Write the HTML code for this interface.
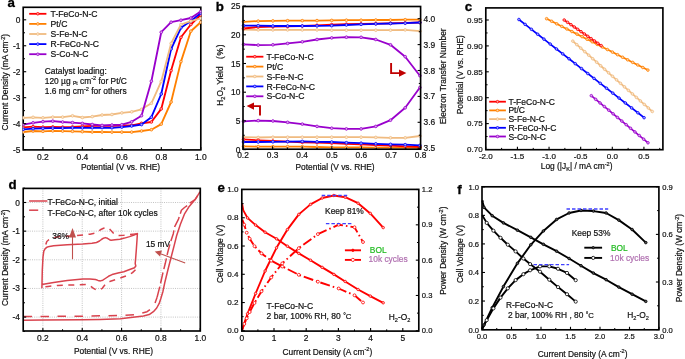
<!DOCTYPE html>
<html><head><meta charset="utf-8"><style>
html,body{margin:0;padding:0;background:#fff;}
svg{display:block;will-change:transform;}
text{font-family:"Liberation Sans", sans-serif;font-variant-ligatures:none;}
</style></head><body>
<svg width="685" height="359" viewBox="0 0 685 359">
<defs><clipPath id="ca"><rect x="22.6" y="6.7" width="178.8" height="143.8"/></clipPath></defs>
<rect width="685" height="359" fill="#fff"/>
<rect x="23.2" y="7.3" width="177.6" height="142.6" fill="none" stroke="#000" stroke-width="1.65"/>
<g clip-path="url(#ca)">
<polyline points="23.2,127.3 33.06,126.7 42.92,127.1 52.78,126.9 62.64,127.1 72.5,126.9 82.36,126.3 92.22,125.9 102.08,125.9 111.94,125.8 121.8,125.5 131.66,125.3 141.52,123.3 151.38,122 161.24,108.9 171.1,70.6 180.96,37.3 190.82,24.5 200.68,15" fill="none" stroke="#ff0000" stroke-width="1.85" stroke-linejoin="round" />
<circle cx="23.2" cy="127.3" r="1.35" fill="#ffa5a5" stroke="#ff0000" stroke-width="0.8"/>
<circle cx="33.06" cy="126.7" r="1.35" fill="#ffa5a5" stroke="#ff0000" stroke-width="0.8"/>
<circle cx="42.92" cy="127.1" r="1.35" fill="#ffa5a5" stroke="#ff0000" stroke-width="0.8"/>
<circle cx="52.78" cy="126.9" r="1.35" fill="#ffa5a5" stroke="#ff0000" stroke-width="0.8"/>
<circle cx="62.64" cy="127.1" r="1.35" fill="#ffa5a5" stroke="#ff0000" stroke-width="0.8"/>
<circle cx="72.5" cy="126.9" r="1.35" fill="#ffa5a5" stroke="#ff0000" stroke-width="0.8"/>
<circle cx="82.36" cy="126.3" r="1.35" fill="#ffa5a5" stroke="#ff0000" stroke-width="0.8"/>
<circle cx="92.22" cy="125.9" r="1.35" fill="#ffa5a5" stroke="#ff0000" stroke-width="0.8"/>
<circle cx="102.08" cy="125.9" r="1.35" fill="#ffa5a5" stroke="#ff0000" stroke-width="0.8"/>
<circle cx="111.94" cy="125.8" r="1.35" fill="#ffa5a5" stroke="#ff0000" stroke-width="0.8"/>
<circle cx="121.8" cy="125.5" r="1.35" fill="#ffa5a5" stroke="#ff0000" stroke-width="0.8"/>
<circle cx="131.66" cy="125.3" r="1.35" fill="#ffa5a5" stroke="#ff0000" stroke-width="0.8"/>
<circle cx="141.52" cy="123.3" r="1.35" fill="#ffa5a5" stroke="#ff0000" stroke-width="0.8"/>
<circle cx="151.38" cy="122" r="1.35" fill="#ffa5a5" stroke="#ff0000" stroke-width="0.8"/>
<circle cx="161.24" cy="108.9" r="1.35" fill="#ffa5a5" stroke="#ff0000" stroke-width="0.8"/>
<circle cx="171.1" cy="70.6" r="1.35" fill="#ffa5a5" stroke="#ff0000" stroke-width="0.8"/>
<circle cx="180.96" cy="37.3" r="1.35" fill="#ffa5a5" stroke="#ff0000" stroke-width="0.8"/>
<circle cx="190.82" cy="24.5" r="1.35" fill="#ffa5a5" stroke="#ff0000" stroke-width="0.8"/>
<circle cx="200.68" cy="15" r="1.35" fill="#ffa5a5" stroke="#ff0000" stroke-width="0.8"/>
<polyline points="23.2,132 33.06,131 42.92,131.3 52.78,130.9 62.64,131.1 72.5,131.3 82.36,131.7 92.22,132 102.08,132 111.94,132.1 121.8,132.1 131.66,132.1 141.52,131 151.38,129.7 161.24,124.1 171.1,102 180.96,61.6 190.82,31.2 200.68,22.2" fill="none" stroke="#ff8000" stroke-width="1.85" stroke-linejoin="round" />
<circle cx="23.2" cy="132" r="1.35" fill="#ffd2a5" stroke="#ff8000" stroke-width="0.8"/>
<circle cx="33.06" cy="131" r="1.35" fill="#ffd2a5" stroke="#ff8000" stroke-width="0.8"/>
<circle cx="42.92" cy="131.3" r="1.35" fill="#ffd2a5" stroke="#ff8000" stroke-width="0.8"/>
<circle cx="52.78" cy="130.9" r="1.35" fill="#ffd2a5" stroke="#ff8000" stroke-width="0.8"/>
<circle cx="62.64" cy="131.1" r="1.35" fill="#ffd2a5" stroke="#ff8000" stroke-width="0.8"/>
<circle cx="72.5" cy="131.3" r="1.35" fill="#ffd2a5" stroke="#ff8000" stroke-width="0.8"/>
<circle cx="82.36" cy="131.7" r="1.35" fill="#ffd2a5" stroke="#ff8000" stroke-width="0.8"/>
<circle cx="92.22" cy="132" r="1.35" fill="#ffd2a5" stroke="#ff8000" stroke-width="0.8"/>
<circle cx="102.08" cy="132" r="1.35" fill="#ffd2a5" stroke="#ff8000" stroke-width="0.8"/>
<circle cx="111.94" cy="132.1" r="1.35" fill="#ffd2a5" stroke="#ff8000" stroke-width="0.8"/>
<circle cx="121.8" cy="132.1" r="1.35" fill="#ffd2a5" stroke="#ff8000" stroke-width="0.8"/>
<circle cx="131.66" cy="132.1" r="1.35" fill="#ffd2a5" stroke="#ff8000" stroke-width="0.8"/>
<circle cx="141.52" cy="131" r="1.35" fill="#ffd2a5" stroke="#ff8000" stroke-width="0.8"/>
<circle cx="151.38" cy="129.7" r="1.35" fill="#ffd2a5" stroke="#ff8000" stroke-width="0.8"/>
<circle cx="161.24" cy="124.1" r="1.35" fill="#ffd2a5" stroke="#ff8000" stroke-width="0.8"/>
<circle cx="171.1" cy="102" r="1.35" fill="#ffd2a5" stroke="#ff8000" stroke-width="0.8"/>
<circle cx="180.96" cy="61.6" r="1.35" fill="#ffd2a5" stroke="#ff8000" stroke-width="0.8"/>
<circle cx="190.82" cy="31.2" r="1.35" fill="#ffd2a5" stroke="#ff8000" stroke-width="0.8"/>
<circle cx="200.68" cy="22.2" r="1.35" fill="#ffd2a5" stroke="#ff8000" stroke-width="0.8"/>
<polyline points="23.2,129.3 33.06,128.7 42.92,128.4 52.78,128.1 62.64,128.1 72.5,127.9 82.36,127.9 92.22,127.8 102.08,127.6 111.94,127.8 121.8,127.1 131.66,126 141.52,124.6 151.38,117.2 161.24,94 171.1,49 180.96,27.8 190.82,21.1 200.68,13.3" fill="none" stroke="#0000ff" stroke-width="1.85" stroke-linejoin="round" />
<circle cx="23.2" cy="129.3" r="1.35" fill="#a5a5ff" stroke="#0000ff" stroke-width="0.8"/>
<circle cx="33.06" cy="128.7" r="1.35" fill="#a5a5ff" stroke="#0000ff" stroke-width="0.8"/>
<circle cx="42.92" cy="128.4" r="1.35" fill="#a5a5ff" stroke="#0000ff" stroke-width="0.8"/>
<circle cx="52.78" cy="128.1" r="1.35" fill="#a5a5ff" stroke="#0000ff" stroke-width="0.8"/>
<circle cx="62.64" cy="128.1" r="1.35" fill="#a5a5ff" stroke="#0000ff" stroke-width="0.8"/>
<circle cx="72.5" cy="127.9" r="1.35" fill="#a5a5ff" stroke="#0000ff" stroke-width="0.8"/>
<circle cx="82.36" cy="127.9" r="1.35" fill="#a5a5ff" stroke="#0000ff" stroke-width="0.8"/>
<circle cx="92.22" cy="127.8" r="1.35" fill="#a5a5ff" stroke="#0000ff" stroke-width="0.8"/>
<circle cx="102.08" cy="127.6" r="1.35" fill="#a5a5ff" stroke="#0000ff" stroke-width="0.8"/>
<circle cx="111.94" cy="127.8" r="1.35" fill="#a5a5ff" stroke="#0000ff" stroke-width="0.8"/>
<circle cx="121.8" cy="127.1" r="1.35" fill="#a5a5ff" stroke="#0000ff" stroke-width="0.8"/>
<circle cx="131.66" cy="126" r="1.35" fill="#a5a5ff" stroke="#0000ff" stroke-width="0.8"/>
<circle cx="141.52" cy="124.6" r="1.35" fill="#a5a5ff" stroke="#0000ff" stroke-width="0.8"/>
<circle cx="151.38" cy="117.2" r="1.35" fill="#a5a5ff" stroke="#0000ff" stroke-width="0.8"/>
<circle cx="161.24" cy="94" r="1.35" fill="#a5a5ff" stroke="#0000ff" stroke-width="0.8"/>
<circle cx="171.1" cy="49" r="1.35" fill="#a5a5ff" stroke="#0000ff" stroke-width="0.8"/>
<circle cx="180.96" cy="27.8" r="1.35" fill="#a5a5ff" stroke="#0000ff" stroke-width="0.8"/>
<circle cx="190.82" cy="21.1" r="1.35" fill="#a5a5ff" stroke="#0000ff" stroke-width="0.8"/>
<circle cx="200.68" cy="13.3" r="1.35" fill="#a5a5ff" stroke="#0000ff" stroke-width="0.8"/>
<polyline points="23.2,117.8 33.06,117.3 42.92,117.8 52.78,117.1 62.64,117.1 72.5,115.8 82.36,117.5 92.22,116.6 102.08,115 111.94,114.5 121.8,112.9 131.66,111.8 141.52,109.3 151.38,103.3 161.24,81.4 171.1,43.4 180.96,24.5 190.82,21.1 200.68,18.4" fill="none" stroke="#f0bb80" stroke-width="1.85" stroke-linejoin="round" />
<circle cx="23.2" cy="117.8" r="1.35" fill="#f9e7d2" stroke="#f0bb80" stroke-width="0.8"/>
<circle cx="33.06" cy="117.3" r="1.35" fill="#f9e7d2" stroke="#f0bb80" stroke-width="0.8"/>
<circle cx="42.92" cy="117.8" r="1.35" fill="#f9e7d2" stroke="#f0bb80" stroke-width="0.8"/>
<circle cx="52.78" cy="117.1" r="1.35" fill="#f9e7d2" stroke="#f0bb80" stroke-width="0.8"/>
<circle cx="62.64" cy="117.1" r="1.35" fill="#f9e7d2" stroke="#f0bb80" stroke-width="0.8"/>
<circle cx="72.5" cy="115.8" r="1.35" fill="#f9e7d2" stroke="#f0bb80" stroke-width="0.8"/>
<circle cx="82.36" cy="117.5" r="1.35" fill="#f9e7d2" stroke="#f0bb80" stroke-width="0.8"/>
<circle cx="92.22" cy="116.6" r="1.35" fill="#f9e7d2" stroke="#f0bb80" stroke-width="0.8"/>
<circle cx="102.08" cy="115" r="1.35" fill="#f9e7d2" stroke="#f0bb80" stroke-width="0.8"/>
<circle cx="111.94" cy="114.5" r="1.35" fill="#f9e7d2" stroke="#f0bb80" stroke-width="0.8"/>
<circle cx="121.8" cy="112.9" r="1.35" fill="#f9e7d2" stroke="#f0bb80" stroke-width="0.8"/>
<circle cx="131.66" cy="111.8" r="1.35" fill="#f9e7d2" stroke="#f0bb80" stroke-width="0.8"/>
<circle cx="141.52" cy="109.3" r="1.35" fill="#f9e7d2" stroke="#f0bb80" stroke-width="0.8"/>
<circle cx="151.38" cy="103.3" r="1.35" fill="#f9e7d2" stroke="#f0bb80" stroke-width="0.8"/>
<circle cx="161.24" cy="81.4" r="1.35" fill="#f9e7d2" stroke="#f0bb80" stroke-width="0.8"/>
<circle cx="171.1" cy="43.4" r="1.35" fill="#f9e7d2" stroke="#f0bb80" stroke-width="0.8"/>
<circle cx="180.96" cy="24.5" r="1.35" fill="#f9e7d2" stroke="#f0bb80" stroke-width="0.8"/>
<circle cx="190.82" cy="21.1" r="1.35" fill="#f9e7d2" stroke="#f0bb80" stroke-width="0.8"/>
<circle cx="200.68" cy="18.4" r="1.35" fill="#f9e7d2" stroke="#f0bb80" stroke-width="0.8"/>
<polyline points="23.2,124.6 33.06,122.8 42.92,121.7 52.78,121.1 62.64,122 72.5,122.6 82.36,123.4 92.22,124.5 102.08,125.4 111.94,125 121.8,124.7 131.66,121.8 141.52,115.7 151.38,81.2 161.24,32.2 171.1,22.2 180.96,20.2 190.82,18 200.68,11.5" fill="none" stroke="#9900cc" stroke-width="1.85" stroke-linejoin="round" />
<circle cx="23.2" cy="124.6" r="1.35" fill="#dba5ed" stroke="#9900cc" stroke-width="0.8"/>
<circle cx="33.06" cy="122.8" r="1.35" fill="#dba5ed" stroke="#9900cc" stroke-width="0.8"/>
<circle cx="42.92" cy="121.7" r="1.35" fill="#dba5ed" stroke="#9900cc" stroke-width="0.8"/>
<circle cx="52.78" cy="121.1" r="1.35" fill="#dba5ed" stroke="#9900cc" stroke-width="0.8"/>
<circle cx="62.64" cy="122" r="1.35" fill="#dba5ed" stroke="#9900cc" stroke-width="0.8"/>
<circle cx="72.5" cy="122.6" r="1.35" fill="#dba5ed" stroke="#9900cc" stroke-width="0.8"/>
<circle cx="82.36" cy="123.4" r="1.35" fill="#dba5ed" stroke="#9900cc" stroke-width="0.8"/>
<circle cx="92.22" cy="124.5" r="1.35" fill="#dba5ed" stroke="#9900cc" stroke-width="0.8"/>
<circle cx="102.08" cy="125.4" r="1.35" fill="#dba5ed" stroke="#9900cc" stroke-width="0.8"/>
<circle cx="111.94" cy="125" r="1.35" fill="#dba5ed" stroke="#9900cc" stroke-width="0.8"/>
<circle cx="121.8" cy="124.7" r="1.35" fill="#dba5ed" stroke="#9900cc" stroke-width="0.8"/>
<circle cx="131.66" cy="121.8" r="1.35" fill="#dba5ed" stroke="#9900cc" stroke-width="0.8"/>
<circle cx="141.52" cy="115.7" r="1.35" fill="#dba5ed" stroke="#9900cc" stroke-width="0.8"/>
<circle cx="151.38" cy="81.2" r="1.35" fill="#dba5ed" stroke="#9900cc" stroke-width="0.8"/>
<circle cx="161.24" cy="32.2" r="1.35" fill="#dba5ed" stroke="#9900cc" stroke-width="0.8"/>
<circle cx="171.1" cy="22.2" r="1.35" fill="#dba5ed" stroke="#9900cc" stroke-width="0.8"/>
<circle cx="180.96" cy="20.2" r="1.35" fill="#dba5ed" stroke="#9900cc" stroke-width="0.8"/>
<circle cx="190.82" cy="18" r="1.35" fill="#dba5ed" stroke="#9900cc" stroke-width="0.8"/>
<circle cx="200.68" cy="11.5" r="1.35" fill="#dba5ed" stroke="#9900cc" stroke-width="0.8"/>
</g>
<line x1="42.93" y1="149.9" x2="42.93" y2="146.9" stroke="#000" stroke-width="1.1" />
<line x1="82.4" y1="149.9" x2="82.4" y2="146.9" stroke="#000" stroke-width="1.1" />
<line x1="121.87" y1="149.9" x2="121.87" y2="146.9" stroke="#000" stroke-width="1.1" />
<line x1="161.33" y1="149.9" x2="161.33" y2="146.9" stroke="#000" stroke-width="1.1" />
<line x1="200.8" y1="149.9" x2="200.8" y2="146.9" stroke="#000" stroke-width="1.1" />
<line x1="62.67" y1="149.9" x2="62.67" y2="148.1" stroke="#000" stroke-width="1.0" />
<line x1="102.13" y1="149.9" x2="102.13" y2="148.1" stroke="#000" stroke-width="1.0" />
<line x1="141.6" y1="149.9" x2="141.6" y2="148.1" stroke="#000" stroke-width="1.0" />
<line x1="181.07" y1="149.9" x2="181.07" y2="148.1" stroke="#000" stroke-width="1.0" />
<text x="42.93" y="159.8" font-size="8.5" text-anchor="middle" fill="#111" font-weight="normal" stroke="#111" stroke-width="0.2" >0.2</text>
<text x="82.4" y="159.8" font-size="8.5" text-anchor="middle" fill="#111" font-weight="normal" stroke="#111" stroke-width="0.2" >0.4</text>
<text x="121.87" y="159.8" font-size="8.5" text-anchor="middle" fill="#111" font-weight="normal" stroke="#111" stroke-width="0.2" >0.6</text>
<text x="161.33" y="159.8" font-size="8.5" text-anchor="middle" fill="#111" font-weight="normal" stroke="#111" stroke-width="0.2" >0.8</text>
<text x="200.8" y="159.8" font-size="8.5" text-anchor="middle" fill="#111" font-weight="normal" stroke="#111" stroke-width="0.2" >1.0</text>
<line x1="23.2" y1="19.8" x2="26.2" y2="19.8" stroke="#000" stroke-width="1.1" />
<line x1="23.2" y1="45.76" x2="26.2" y2="45.76" stroke="#000" stroke-width="1.1" />
<line x1="23.2" y1="71.72" x2="26.2" y2="71.72" stroke="#000" stroke-width="1.1" />
<line x1="23.2" y1="97.68" x2="26.2" y2="97.68" stroke="#000" stroke-width="1.1" />
<line x1="23.2" y1="123.64" x2="26.2" y2="123.64" stroke="#000" stroke-width="1.1" />
<line x1="23.2" y1="149.6" x2="26.2" y2="149.6" stroke="#000" stroke-width="1.1" />
<line x1="23.2" y1="32.78" x2="25" y2="32.78" stroke="#000" stroke-width="1.0" />
<line x1="23.2" y1="58.74" x2="25" y2="58.74" stroke="#000" stroke-width="1.0" />
<line x1="23.2" y1="84.7" x2="25" y2="84.7" stroke="#000" stroke-width="1.0" />
<line x1="23.2" y1="110.66" x2="25" y2="110.66" stroke="#000" stroke-width="1.0" />
<line x1="23.2" y1="136.62" x2="25" y2="136.62" stroke="#000" stroke-width="1.0" />
<text x="20.5" y="22.8" font-size="8.4" text-anchor="end" fill="#111" font-weight="normal" stroke="#111" stroke-width="0.2" >0</text>
<text x="20.5" y="48.76" font-size="8.4" text-anchor="end" fill="#111" font-weight="normal" stroke="#111" stroke-width="0.2" >-1</text>
<text x="20.5" y="74.72" font-size="8.4" text-anchor="end" fill="#111" font-weight="normal" stroke="#111" stroke-width="0.2" >-2</text>
<text x="20.5" y="100.68" font-size="8.4" text-anchor="end" fill="#111" font-weight="normal" stroke="#111" stroke-width="0.2" >-3</text>
<text x="20.5" y="126.64" font-size="8.4" text-anchor="end" fill="#111" font-weight="normal" stroke="#111" stroke-width="0.2" >-4</text>
<text x="20.5" y="152.6" font-size="8.4" text-anchor="end" fill="#111" font-weight="normal" stroke="#111" stroke-width="0.2" >-5</text>
<text x="120.6" y="169.6" font-size="8.4" text-anchor="middle" fill="#111" font-weight="normal" stroke="#111" stroke-width="0.2" >Potential (V vs. RHE)</text>
<text x="8.2" y="82.2" font-size="8.4" text-anchor="middle" fill="#111" font-weight="normal" stroke="#111" stroke-width="0.2" transform="rotate(-90 8.2 82.2)" >Current Density (mA cm<tspan font-size="5.6" dy="-3.2">-2</tspan><tspan dy="3.2">)</tspan></text>
<line x1="29.2" y1="13.8" x2="46.4" y2="13.8" stroke="#ff0000" stroke-width="1.8" />
<circle cx="37.8" cy="13.8" r="1.3" fill="#ffa5a5" stroke="#ff0000" stroke-width="0.8"/>
<text x="50.6" y="16.9" font-size="8.65" text-anchor="start" fill="#111" font-weight="normal" stroke="#111" stroke-width="0.2" >T-FeCo-N-C</text>
<line x1="29.2" y1="23.9" x2="46.4" y2="23.9" stroke="#ff8000" stroke-width="1.8" />
<circle cx="37.8" cy="23.9" r="1.3" fill="#ffd2a5" stroke="#ff8000" stroke-width="0.8"/>
<text x="50.6" y="27" font-size="8.65" text-anchor="start" fill="#111" font-weight="normal" stroke="#111" stroke-width="0.2" >Pt/C</text>
<line x1="29.2" y1="34" x2="46.4" y2="34" stroke="#f0bb80" stroke-width="1.8" />
<circle cx="37.8" cy="34" r="1.3" fill="#f9e7d2" stroke="#f0bb80" stroke-width="0.8"/>
<text x="50.6" y="37.1" font-size="8.65" text-anchor="start" fill="#111" font-weight="normal" stroke="#111" stroke-width="0.2" >S-Fe-N-C</text>
<line x1="29.2" y1="44.1" x2="46.4" y2="44.1" stroke="#0000ff" stroke-width="1.8" />
<circle cx="37.8" cy="44.1" r="1.3" fill="#a5a5ff" stroke="#0000ff" stroke-width="0.8"/>
<text x="50.6" y="47.2" font-size="8.65" text-anchor="start" fill="#111" font-weight="normal" stroke="#111" stroke-width="0.2" >R-FeCo-N-C</text>
<line x1="29.2" y1="54.2" x2="46.4" y2="54.2" stroke="#9900cc" stroke-width="1.8" />
<circle cx="37.8" cy="54.2" r="1.3" fill="#dba5ed" stroke="#9900cc" stroke-width="0.8"/>
<text x="50.6" y="57.3" font-size="8.65" text-anchor="start" fill="#111" font-weight="normal" stroke="#111" stroke-width="0.2" >S-Co-N-C</text>
<text x="44.8" y="73.7" font-size="8.4" text-anchor="start" fill="#111" font-weight="normal" stroke="#111" stroke-width="0.2" >Catalyst loading:</text>
<text x="44.8" y="83.5" font-size="8.4" text-anchor="start" fill="#111" font-weight="normal" stroke="#111" stroke-width="0.2" >120 µg <tspan font-size="5.0" dy="1.8">Pt</tspan><tspan dy="-1.8"> cm<tspan font-size="5.6" dy="-3.2">-2</tspan><tspan dy="3.2"> for Pt/C</tspan></tspan></text>
<text x="44.8" y="93.7" font-size="8.4" text-anchor="start" fill="#111" font-weight="normal" stroke="#111" stroke-width="0.2" >1.6 mg cm<tspan font-size="5.6" dy="-3.2">-2</tspan><tspan dy="3.2"> for others</tspan></text>
<text x="7.6" y="7" font-size="13.3" text-anchor="start" fill="#000" font-weight="bold" stroke="#000" stroke-width="0.3">a</text>
<polyline points="243.5,29.5 258.2,29.9 272.9,29.9 287.6,29.9 302.3,29.9 317,29.9 331.7,30.2 346.4,30.2 361.1,30.2 375.8,30.2 390.5,30.2 405.2,29.9 419.9,31.2" fill="none" stroke="#f0bb80" stroke-width="1.8" stroke-linejoin="round" />
<circle cx="243.5" cy="29.5" r="1.35" fill="#f9e7d2" stroke="#f0bb80" stroke-width="0.8"/>
<circle cx="258.2" cy="29.9" r="1.35" fill="#f9e7d2" stroke="#f0bb80" stroke-width="0.8"/>
<circle cx="272.9" cy="29.9" r="1.35" fill="#f9e7d2" stroke="#f0bb80" stroke-width="0.8"/>
<circle cx="287.6" cy="29.9" r="1.35" fill="#f9e7d2" stroke="#f0bb80" stroke-width="0.8"/>
<circle cx="302.3" cy="29.9" r="1.35" fill="#f9e7d2" stroke="#f0bb80" stroke-width="0.8"/>
<circle cx="317" cy="29.9" r="1.35" fill="#f9e7d2" stroke="#f0bb80" stroke-width="0.8"/>
<circle cx="331.7" cy="30.2" r="1.35" fill="#f9e7d2" stroke="#f0bb80" stroke-width="0.8"/>
<circle cx="346.4" cy="30.2" r="1.35" fill="#f9e7d2" stroke="#f0bb80" stroke-width="0.8"/>
<circle cx="361.1" cy="30.2" r="1.35" fill="#f9e7d2" stroke="#f0bb80" stroke-width="0.8"/>
<circle cx="375.8" cy="30.2" r="1.35" fill="#f9e7d2" stroke="#f0bb80" stroke-width="0.8"/>
<circle cx="390.5" cy="30.2" r="1.35" fill="#f9e7d2" stroke="#f0bb80" stroke-width="0.8"/>
<circle cx="405.2" cy="29.9" r="1.35" fill="#f9e7d2" stroke="#f0bb80" stroke-width="0.8"/>
<circle cx="419.9" cy="31.2" r="1.35" fill="#f9e7d2" stroke="#f0bb80" stroke-width="0.8"/>
<polyline points="243.5,44.4 258.2,45.1 272.9,44.8 287.6,43.4 302.3,41.8 317,39.5 331.7,37.9 346.4,37.2 361.1,37.3 375.8,39.5 390.5,44.8 405.2,56.7 419.9,75.7" fill="none" stroke="#9900cc" stroke-width="1.8" stroke-linejoin="round" />
<circle cx="243.5" cy="44.4" r="1.35" fill="#dba5ed" stroke="#9900cc" stroke-width="0.8"/>
<circle cx="258.2" cy="45.1" r="1.35" fill="#dba5ed" stroke="#9900cc" stroke-width="0.8"/>
<circle cx="272.9" cy="44.8" r="1.35" fill="#dba5ed" stroke="#9900cc" stroke-width="0.8"/>
<circle cx="287.6" cy="43.4" r="1.35" fill="#dba5ed" stroke="#9900cc" stroke-width="0.8"/>
<circle cx="302.3" cy="41.8" r="1.35" fill="#dba5ed" stroke="#9900cc" stroke-width="0.8"/>
<circle cx="317" cy="39.5" r="1.35" fill="#dba5ed" stroke="#9900cc" stroke-width="0.8"/>
<circle cx="331.7" cy="37.9" r="1.35" fill="#dba5ed" stroke="#9900cc" stroke-width="0.8"/>
<circle cx="346.4" cy="37.2" r="1.35" fill="#dba5ed" stroke="#9900cc" stroke-width="0.8"/>
<circle cx="361.1" cy="37.3" r="1.35" fill="#dba5ed" stroke="#9900cc" stroke-width="0.8"/>
<circle cx="375.8" cy="39.5" r="1.35" fill="#dba5ed" stroke="#9900cc" stroke-width="0.8"/>
<circle cx="390.5" cy="44.8" r="1.35" fill="#dba5ed" stroke="#9900cc" stroke-width="0.8"/>
<circle cx="405.2" cy="56.7" r="1.35" fill="#dba5ed" stroke="#9900cc" stroke-width="0.8"/>
<circle cx="419.9" cy="75.7" r="1.35" fill="#dba5ed" stroke="#9900cc" stroke-width="0.8"/>
<polyline points="243.5,21.8 258.2,21.1 272.9,20.9 287.6,20.7 302.3,20.7 317,20.6 331.7,20.4 346.4,20.2 361.1,20.2 375.8,20 390.5,20 405.2,19.7 419.9,19.7" fill="none" stroke="#ff8000" stroke-width="1.8" stroke-linejoin="round" />
<circle cx="243.5" cy="21.8" r="1.35" fill="#ffd2a5" stroke="#ff8000" stroke-width="0.8"/>
<circle cx="258.2" cy="21.1" r="1.35" fill="#ffd2a5" stroke="#ff8000" stroke-width="0.8"/>
<circle cx="272.9" cy="20.9" r="1.35" fill="#ffd2a5" stroke="#ff8000" stroke-width="0.8"/>
<circle cx="287.6" cy="20.7" r="1.35" fill="#ffd2a5" stroke="#ff8000" stroke-width="0.8"/>
<circle cx="302.3" cy="20.7" r="1.35" fill="#ffd2a5" stroke="#ff8000" stroke-width="0.8"/>
<circle cx="317" cy="20.6" r="1.35" fill="#ffd2a5" stroke="#ff8000" stroke-width="0.8"/>
<circle cx="331.7" cy="20.4" r="1.35" fill="#ffd2a5" stroke="#ff8000" stroke-width="0.8"/>
<circle cx="346.4" cy="20.2" r="1.35" fill="#ffd2a5" stroke="#ff8000" stroke-width="0.8"/>
<circle cx="361.1" cy="20.2" r="1.35" fill="#ffd2a5" stroke="#ff8000" stroke-width="0.8"/>
<circle cx="375.8" cy="20" r="1.35" fill="#ffd2a5" stroke="#ff8000" stroke-width="0.8"/>
<circle cx="390.5" cy="20" r="1.35" fill="#ffd2a5" stroke="#ff8000" stroke-width="0.8"/>
<circle cx="405.2" cy="19.7" r="1.35" fill="#ffd2a5" stroke="#ff8000" stroke-width="0.8"/>
<circle cx="419.9" cy="19.7" r="1.35" fill="#ffd2a5" stroke="#ff8000" stroke-width="0.8"/>
<polyline points="243.5,28.5 258.2,27 272.9,26.7 287.6,26.4 302.3,26 317,25.3 331.7,24.6 346.4,24.2 361.1,23.9 375.8,23.7 390.5,23.3 405.2,22.9 419.9,22.5" fill="none" stroke="#ff0000" stroke-width="1.8" stroke-linejoin="round" />
<circle cx="243.5" cy="28.5" r="1.35" fill="#ffa5a5" stroke="#ff0000" stroke-width="0.8"/>
<circle cx="258.2" cy="27" r="1.35" fill="#ffa5a5" stroke="#ff0000" stroke-width="0.8"/>
<circle cx="272.9" cy="26.7" r="1.35" fill="#ffa5a5" stroke="#ff0000" stroke-width="0.8"/>
<circle cx="287.6" cy="26.4" r="1.35" fill="#ffa5a5" stroke="#ff0000" stroke-width="0.8"/>
<circle cx="302.3" cy="26" r="1.35" fill="#ffa5a5" stroke="#ff0000" stroke-width="0.8"/>
<circle cx="317" cy="25.3" r="1.35" fill="#ffa5a5" stroke="#ff0000" stroke-width="0.8"/>
<circle cx="331.7" cy="24.6" r="1.35" fill="#ffa5a5" stroke="#ff0000" stroke-width="0.8"/>
<circle cx="346.4" cy="24.2" r="1.35" fill="#ffa5a5" stroke="#ff0000" stroke-width="0.8"/>
<circle cx="361.1" cy="23.9" r="1.35" fill="#ffa5a5" stroke="#ff0000" stroke-width="0.8"/>
<circle cx="375.8" cy="23.7" r="1.35" fill="#ffa5a5" stroke="#ff0000" stroke-width="0.8"/>
<circle cx="390.5" cy="23.3" r="1.35" fill="#ffa5a5" stroke="#ff0000" stroke-width="0.8"/>
<circle cx="405.2" cy="22.9" r="1.35" fill="#ffa5a5" stroke="#ff0000" stroke-width="0.8"/>
<circle cx="419.9" cy="22.5" r="1.35" fill="#ffa5a5" stroke="#ff0000" stroke-width="0.8"/>
<polyline points="243.5,25.6 258.2,25.7 272.9,26 287.6,26 302.3,26 317,25.9 331.7,25.7 346.4,25 361.1,24.3 375.8,23.9 390.5,23.5 405.2,23.2 419.9,22.5" fill="none" stroke="#0000ff" stroke-width="1.8" stroke-linejoin="round" />
<circle cx="243.5" cy="25.6" r="1.35" fill="#a5a5ff" stroke="#0000ff" stroke-width="0.8"/>
<circle cx="258.2" cy="25.7" r="1.35" fill="#a5a5ff" stroke="#0000ff" stroke-width="0.8"/>
<circle cx="272.9" cy="26" r="1.35" fill="#a5a5ff" stroke="#0000ff" stroke-width="0.8"/>
<circle cx="287.6" cy="26" r="1.35" fill="#a5a5ff" stroke="#0000ff" stroke-width="0.8"/>
<circle cx="302.3" cy="26" r="1.35" fill="#a5a5ff" stroke="#0000ff" stroke-width="0.8"/>
<circle cx="317" cy="25.9" r="1.35" fill="#a5a5ff" stroke="#0000ff" stroke-width="0.8"/>
<circle cx="331.7" cy="25.7" r="1.35" fill="#a5a5ff" stroke="#0000ff" stroke-width="0.8"/>
<circle cx="346.4" cy="25" r="1.35" fill="#a5a5ff" stroke="#0000ff" stroke-width="0.8"/>
<circle cx="361.1" cy="24.3" r="1.35" fill="#a5a5ff" stroke="#0000ff" stroke-width="0.8"/>
<circle cx="375.8" cy="23.9" r="1.35" fill="#a5a5ff" stroke="#0000ff" stroke-width="0.8"/>
<circle cx="390.5" cy="23.5" r="1.35" fill="#a5a5ff" stroke="#0000ff" stroke-width="0.8"/>
<circle cx="405.2" cy="23.2" r="1.35" fill="#a5a5ff" stroke="#0000ff" stroke-width="0.8"/>
<circle cx="419.9" cy="22.5" r="1.35" fill="#a5a5ff" stroke="#0000ff" stroke-width="0.8"/>
<polyline points="243.5,121.3 258.2,120.6 272.9,121 287.6,122.3 302.3,124.1 317,126.4 331.7,128.2 346.4,128.9 361.1,128.9 375.8,126.4 390.5,120.2 405.2,107.8 419.9,87.5" fill="none" stroke="#9900cc" stroke-width="1.8" stroke-linejoin="round" />
<circle cx="243.5" cy="121.3" r="1.35" fill="#dba5ed" stroke="#9900cc" stroke-width="0.8"/>
<circle cx="258.2" cy="120.6" r="1.35" fill="#dba5ed" stroke="#9900cc" stroke-width="0.8"/>
<circle cx="272.9" cy="121" r="1.35" fill="#dba5ed" stroke="#9900cc" stroke-width="0.8"/>
<circle cx="287.6" cy="122.3" r="1.35" fill="#dba5ed" stroke="#9900cc" stroke-width="0.8"/>
<circle cx="302.3" cy="124.1" r="1.35" fill="#dba5ed" stroke="#9900cc" stroke-width="0.8"/>
<circle cx="317" cy="126.4" r="1.35" fill="#dba5ed" stroke="#9900cc" stroke-width="0.8"/>
<circle cx="331.7" cy="128.2" r="1.35" fill="#dba5ed" stroke="#9900cc" stroke-width="0.8"/>
<circle cx="346.4" cy="128.9" r="1.35" fill="#dba5ed" stroke="#9900cc" stroke-width="0.8"/>
<circle cx="361.1" cy="128.9" r="1.35" fill="#dba5ed" stroke="#9900cc" stroke-width="0.8"/>
<circle cx="375.8" cy="126.4" r="1.35" fill="#dba5ed" stroke="#9900cc" stroke-width="0.8"/>
<circle cx="390.5" cy="120.2" r="1.35" fill="#dba5ed" stroke="#9900cc" stroke-width="0.8"/>
<circle cx="405.2" cy="107.8" r="1.35" fill="#dba5ed" stroke="#9900cc" stroke-width="0.8"/>
<circle cx="419.9" cy="87.5" r="1.35" fill="#dba5ed" stroke="#9900cc" stroke-width="0.8"/>
<polyline points="243.5,137.1 258.2,137.5 272.9,137.2 287.6,137.2 302.3,137.2 317,137.2 331.7,137.2 346.4,137.2 361.1,137.2 375.8,137.4 390.5,137.8 405.2,137.8 419.9,136" fill="none" stroke="#f0bb80" stroke-width="1.8" stroke-linejoin="round" />
<circle cx="243.5" cy="137.1" r="1.35" fill="#f9e7d2" stroke="#f0bb80" stroke-width="0.8"/>
<circle cx="258.2" cy="137.5" r="1.35" fill="#f9e7d2" stroke="#f0bb80" stroke-width="0.8"/>
<circle cx="272.9" cy="137.2" r="1.35" fill="#f9e7d2" stroke="#f0bb80" stroke-width="0.8"/>
<circle cx="287.6" cy="137.2" r="1.35" fill="#f9e7d2" stroke="#f0bb80" stroke-width="0.8"/>
<circle cx="302.3" cy="137.2" r="1.35" fill="#f9e7d2" stroke="#f0bb80" stroke-width="0.8"/>
<circle cx="317" cy="137.2" r="1.35" fill="#f9e7d2" stroke="#f0bb80" stroke-width="0.8"/>
<circle cx="331.7" cy="137.2" r="1.35" fill="#f9e7d2" stroke="#f0bb80" stroke-width="0.8"/>
<circle cx="346.4" cy="137.2" r="1.35" fill="#f9e7d2" stroke="#f0bb80" stroke-width="0.8"/>
<circle cx="361.1" cy="137.2" r="1.35" fill="#f9e7d2" stroke="#f0bb80" stroke-width="0.8"/>
<circle cx="375.8" cy="137.4" r="1.35" fill="#f9e7d2" stroke="#f0bb80" stroke-width="0.8"/>
<circle cx="390.5" cy="137.8" r="1.35" fill="#f9e7d2" stroke="#f0bb80" stroke-width="0.8"/>
<circle cx="405.2" cy="137.8" r="1.35" fill="#f9e7d2" stroke="#f0bb80" stroke-width="0.8"/>
<circle cx="419.9" cy="136" r="1.35" fill="#f9e7d2" stroke="#f0bb80" stroke-width="0.8"/>
<polyline points="243.5,146.3 258.2,146.6 272.9,146.6 287.6,146.6 302.3,146.6 317,147 331.7,147.3 346.4,147.3 361.1,147.3 375.8,147.6 390.5,147.6 405.2,147.6 419.9,147.8" fill="none" stroke="#ff8000" stroke-width="1.8" stroke-linejoin="round" />
<circle cx="243.5" cy="146.3" r="1.35" fill="#ffd2a5" stroke="#ff8000" stroke-width="0.8"/>
<circle cx="258.2" cy="146.6" r="1.35" fill="#ffd2a5" stroke="#ff8000" stroke-width="0.8"/>
<circle cx="272.9" cy="146.6" r="1.35" fill="#ffd2a5" stroke="#ff8000" stroke-width="0.8"/>
<circle cx="287.6" cy="146.6" r="1.35" fill="#ffd2a5" stroke="#ff8000" stroke-width="0.8"/>
<circle cx="302.3" cy="146.6" r="1.35" fill="#ffd2a5" stroke="#ff8000" stroke-width="0.8"/>
<circle cx="317" cy="147" r="1.35" fill="#ffd2a5" stroke="#ff8000" stroke-width="0.8"/>
<circle cx="331.7" cy="147.3" r="1.35" fill="#ffd2a5" stroke="#ff8000" stroke-width="0.8"/>
<circle cx="346.4" cy="147.3" r="1.35" fill="#ffd2a5" stroke="#ff8000" stroke-width="0.8"/>
<circle cx="361.1" cy="147.3" r="1.35" fill="#ffd2a5" stroke="#ff8000" stroke-width="0.8"/>
<circle cx="375.8" cy="147.6" r="1.35" fill="#ffd2a5" stroke="#ff8000" stroke-width="0.8"/>
<circle cx="390.5" cy="147.6" r="1.35" fill="#ffd2a5" stroke="#ff8000" stroke-width="0.8"/>
<circle cx="405.2" cy="147.6" r="1.35" fill="#ffd2a5" stroke="#ff8000" stroke-width="0.8"/>
<circle cx="419.9" cy="147.8" r="1.35" fill="#ffd2a5" stroke="#ff8000" stroke-width="0.8"/>
<polyline points="243.5,139.4 258.2,140.3 272.9,141 287.6,141.6 302.3,142.3 317,142.7 331.7,143.2 346.4,143.8 361.1,144.3 375.8,145 390.5,145.6 405.2,146.4 419.9,146.9" fill="none" stroke="#ff0000" stroke-width="1.8" stroke-linejoin="round" />
<circle cx="243.5" cy="139.4" r="1.35" fill="#ffa5a5" stroke="#ff0000" stroke-width="0.8"/>
<circle cx="258.2" cy="140.3" r="1.35" fill="#ffa5a5" stroke="#ff0000" stroke-width="0.8"/>
<circle cx="272.9" cy="141" r="1.35" fill="#ffa5a5" stroke="#ff0000" stroke-width="0.8"/>
<circle cx="287.6" cy="141.6" r="1.35" fill="#ffa5a5" stroke="#ff0000" stroke-width="0.8"/>
<circle cx="302.3" cy="142.3" r="1.35" fill="#ffa5a5" stroke="#ff0000" stroke-width="0.8"/>
<circle cx="317" cy="142.7" r="1.35" fill="#ffa5a5" stroke="#ff0000" stroke-width="0.8"/>
<circle cx="331.7" cy="143.2" r="1.35" fill="#ffa5a5" stroke="#ff0000" stroke-width="0.8"/>
<circle cx="346.4" cy="143.8" r="1.35" fill="#ffa5a5" stroke="#ff0000" stroke-width="0.8"/>
<circle cx="361.1" cy="144.3" r="1.35" fill="#ffa5a5" stroke="#ff0000" stroke-width="0.8"/>
<circle cx="375.8" cy="145" r="1.35" fill="#ffa5a5" stroke="#ff0000" stroke-width="0.8"/>
<circle cx="390.5" cy="145.6" r="1.35" fill="#ffa5a5" stroke="#ff0000" stroke-width="0.8"/>
<circle cx="405.2" cy="146.4" r="1.35" fill="#ffa5a5" stroke="#ff0000" stroke-width="0.8"/>
<circle cx="419.9" cy="146.9" r="1.35" fill="#ffa5a5" stroke="#ff0000" stroke-width="0.8"/>
<polyline points="243.5,142 258.2,142 272.9,141.8 287.6,141.6 302.3,141.4 317,141.8 331.7,142 346.4,142.7 361.1,143.2 375.8,143.8 390.5,144.3 405.2,144.7 419.9,145.4" fill="none" stroke="#0000ff" stroke-width="1.8" stroke-linejoin="round" />
<circle cx="243.5" cy="142" r="1.35" fill="#a5a5ff" stroke="#0000ff" stroke-width="0.8"/>
<circle cx="258.2" cy="142" r="1.35" fill="#a5a5ff" stroke="#0000ff" stroke-width="0.8"/>
<circle cx="272.9" cy="141.8" r="1.35" fill="#a5a5ff" stroke="#0000ff" stroke-width="0.8"/>
<circle cx="287.6" cy="141.6" r="1.35" fill="#a5a5ff" stroke="#0000ff" stroke-width="0.8"/>
<circle cx="302.3" cy="141.4" r="1.35" fill="#a5a5ff" stroke="#0000ff" stroke-width="0.8"/>
<circle cx="317" cy="141.8" r="1.35" fill="#a5a5ff" stroke="#0000ff" stroke-width="0.8"/>
<circle cx="331.7" cy="142" r="1.35" fill="#a5a5ff" stroke="#0000ff" stroke-width="0.8"/>
<circle cx="346.4" cy="142.7" r="1.35" fill="#a5a5ff" stroke="#0000ff" stroke-width="0.8"/>
<circle cx="361.1" cy="143.2" r="1.35" fill="#a5a5ff" stroke="#0000ff" stroke-width="0.8"/>
<circle cx="375.8" cy="143.8" r="1.35" fill="#a5a5ff" stroke="#0000ff" stroke-width="0.8"/>
<circle cx="390.5" cy="144.3" r="1.35" fill="#a5a5ff" stroke="#0000ff" stroke-width="0.8"/>
<circle cx="405.2" cy="144.7" r="1.35" fill="#a5a5ff" stroke="#0000ff" stroke-width="0.8"/>
<circle cx="419.9" cy="145.4" r="1.35" fill="#a5a5ff" stroke="#0000ff" stroke-width="0.8"/>
<rect x="243" y="6.5" width="177.6" height="142.7" fill="none" stroke="#000" stroke-width="1.65"/>
<line x1="243" y1="149.2" x2="243" y2="146.2" stroke="#000" stroke-width="1.1" />
<line x1="272.6" y1="149.2" x2="272.6" y2="146.2" stroke="#000" stroke-width="1.1" />
<line x1="302.2" y1="149.2" x2="302.2" y2="146.2" stroke="#000" stroke-width="1.1" />
<line x1="331.8" y1="149.2" x2="331.8" y2="146.2" stroke="#000" stroke-width="1.1" />
<line x1="361.4" y1="149.2" x2="361.4" y2="146.2" stroke="#000" stroke-width="1.1" />
<line x1="391" y1="149.2" x2="391" y2="146.2" stroke="#000" stroke-width="1.1" />
<line x1="420.6" y1="149.2" x2="420.6" y2="146.2" stroke="#000" stroke-width="1.1" />
<line x1="257.8" y1="149.2" x2="257.8" y2="147.4" stroke="#000" stroke-width="1.0" />
<line x1="287.4" y1="149.2" x2="287.4" y2="147.4" stroke="#000" stroke-width="1.0" />
<line x1="317" y1="149.2" x2="317" y2="147.4" stroke="#000" stroke-width="1.0" />
<line x1="346.6" y1="149.2" x2="346.6" y2="147.4" stroke="#000" stroke-width="1.0" />
<line x1="376.2" y1="149.2" x2="376.2" y2="147.4" stroke="#000" stroke-width="1.0" />
<line x1="405.8" y1="149.2" x2="405.8" y2="147.4" stroke="#000" stroke-width="1.0" />
<text x="243" y="158.1" font-size="8.4" text-anchor="middle" fill="#111" font-weight="normal" stroke="#111" stroke-width="0.2" >0.2</text>
<text x="272.6" y="158.1" font-size="8.4" text-anchor="middle" fill="#111" font-weight="normal" stroke="#111" stroke-width="0.2" >0.3</text>
<text x="302.2" y="158.1" font-size="8.4" text-anchor="middle" fill="#111" font-weight="normal" stroke="#111" stroke-width="0.2" >0.4</text>
<text x="331.8" y="158.1" font-size="8.4" text-anchor="middle" fill="#111" font-weight="normal" stroke="#111" stroke-width="0.2" >0.5</text>
<text x="361.4" y="158.1" font-size="8.4" text-anchor="middle" fill="#111" font-weight="normal" stroke="#111" stroke-width="0.2" >0.6</text>
<text x="391" y="158.1" font-size="8.4" text-anchor="middle" fill="#111" font-weight="normal" stroke="#111" stroke-width="0.2" >0.7</text>
<text x="420.6" y="158.1" font-size="8.4" text-anchor="middle" fill="#111" font-weight="normal" stroke="#111" stroke-width="0.2" >0.8</text>
<line x1="243" y1="149.6" x2="246" y2="149.6" stroke="#000" stroke-width="1.1" />
<line x1="243" y1="120.9" x2="246" y2="120.9" stroke="#000" stroke-width="1.1" />
<line x1="243" y1="92.2" x2="246" y2="92.2" stroke="#000" stroke-width="1.1" />
<line x1="243" y1="63.5" x2="246" y2="63.5" stroke="#000" stroke-width="1.1" />
<line x1="243" y1="34.8" x2="246" y2="34.8" stroke="#000" stroke-width="1.1" />
<line x1="243" y1="6.1" x2="246" y2="6.1" stroke="#000" stroke-width="1.1" />
<line x1="243" y1="135.25" x2="244.8" y2="135.25" stroke="#000" stroke-width="1.0" />
<line x1="243" y1="106.55" x2="244.8" y2="106.55" stroke="#000" stroke-width="1.0" />
<line x1="243" y1="77.85" x2="244.8" y2="77.85" stroke="#000" stroke-width="1.0" />
<line x1="243" y1="49.15" x2="244.8" y2="49.15" stroke="#000" stroke-width="1.0" />
<line x1="243" y1="20.45" x2="244.8" y2="20.45" stroke="#000" stroke-width="1.0" />
<text x="240.3" y="152.6" font-size="8.4" text-anchor="end" fill="#111" font-weight="normal" stroke="#111" stroke-width="0.2" >0</text>
<text x="240.3" y="123.9" font-size="8.4" text-anchor="end" fill="#111" font-weight="normal" stroke="#111" stroke-width="0.2" >5</text>
<text x="240.3" y="95.2" font-size="8.4" text-anchor="end" fill="#111" font-weight="normal" stroke="#111" stroke-width="0.2" >10</text>
<text x="240.3" y="66.5" font-size="8.4" text-anchor="end" fill="#111" font-weight="normal" stroke="#111" stroke-width="0.2" >15</text>
<text x="240.3" y="37.8" font-size="8.4" text-anchor="end" fill="#111" font-weight="normal" stroke="#111" stroke-width="0.2" >20</text>
<text x="240.3" y="9.1" font-size="8.4" text-anchor="end" fill="#111" font-weight="normal" stroke="#111" stroke-width="0.2" >25</text>
<line x1="420.6" y1="148.2" x2="417.6" y2="148.2" stroke="#000" stroke-width="1.1" />
<line x1="420.6" y1="122.3" x2="417.6" y2="122.3" stroke="#000" stroke-width="1.1" />
<line x1="420.6" y1="96.4" x2="417.6" y2="96.4" stroke="#000" stroke-width="1.1" />
<line x1="420.6" y1="70.5" x2="417.6" y2="70.5" stroke="#000" stroke-width="1.1" />
<line x1="420.6" y1="44.6" x2="417.6" y2="44.6" stroke="#000" stroke-width="1.1" />
<line x1="420.6" y1="18.7" x2="417.6" y2="18.7" stroke="#000" stroke-width="1.1" />
<line x1="420.6" y1="135.25" x2="418.8" y2="135.25" stroke="#000" stroke-width="1.0" />
<line x1="420.6" y1="109.35" x2="418.8" y2="109.35" stroke="#000" stroke-width="1.0" />
<line x1="420.6" y1="83.45" x2="418.8" y2="83.45" stroke="#000" stroke-width="1.0" />
<line x1="420.6" y1="57.55" x2="418.8" y2="57.55" stroke="#000" stroke-width="1.0" />
<line x1="420.6" y1="31.65" x2="418.8" y2="31.65" stroke="#000" stroke-width="1.0" />
<text x="423.6" y="151.2" font-size="8.4" text-anchor="start" fill="#111" font-weight="normal" stroke="#111" stroke-width="0.2" >3.5</text>
<text x="423.6" y="125.3" font-size="8.4" text-anchor="start" fill="#111" font-weight="normal" stroke="#111" stroke-width="0.2" >3.6</text>
<text x="423.6" y="99.4" font-size="8.4" text-anchor="start" fill="#111" font-weight="normal" stroke="#111" stroke-width="0.2" >3.7</text>
<text x="423.6" y="73.5" font-size="8.4" text-anchor="start" fill="#111" font-weight="normal" stroke="#111" stroke-width="0.2" >3.8</text>
<text x="423.6" y="47.6" font-size="8.4" text-anchor="start" fill="#111" font-weight="normal" stroke="#111" stroke-width="0.2" >3.9</text>
<text x="423.6" y="21.7" font-size="8.4" text-anchor="start" fill="#111" font-weight="normal" stroke="#111" stroke-width="0.2" >4.0</text>
<text x="335.1" y="169.6" font-size="8.4" text-anchor="middle" fill="#111" font-weight="normal" stroke="#111" stroke-width="0.2" >Potential (V vs. RHE)</text>
<text x="223" y="105.7" font-size="8.4" text-anchor="start" fill="#111" font-weight="normal" stroke="#111" stroke-width="0.2" transform="rotate(-90 223 105.7)" >H<tspan font-size="5.6" dy="2.0">2</tspan><tspan dy="-2.0">O<tspan font-size="5.6" dy="2.0">2</tspan><tspan dy="-2.0"> Yield</tspan></tspan></text>
<text x="223" y="59" font-size="8.4" text-anchor="start" fill="#111" font-weight="normal" stroke="#111" stroke-width="0.2" transform="rotate(-90 223 59)" letter-spacing="0.8">(%)</text>
<text x="446.2" y="76.3" font-size="8.4" text-anchor="middle" fill="#111" font-weight="normal" stroke="#111" stroke-width="0.2" transform="rotate(-90 446.2 76.3)" >Electron Transfer Number</text>
<line x1="246.2" y1="56.7" x2="263.4" y2="56.7" stroke="#ff0000" stroke-width="1.8" />
<circle cx="254.8" cy="56.7" r="1.3" fill="#ffa5a5" stroke="#ff0000" stroke-width="0.8"/>
<text x="266.4" y="59.8" font-size="8.7" text-anchor="start" fill="#111" font-weight="normal" stroke="#111" stroke-width="0.2" >T-FeCo-N-C</text>
<line x1="246.2" y1="66.6" x2="263.4" y2="66.6" stroke="#ff8000" stroke-width="1.8" />
<circle cx="254.8" cy="66.6" r="1.3" fill="#ffd2a5" stroke="#ff8000" stroke-width="0.8"/>
<text x="266.4" y="69.7" font-size="8.7" text-anchor="start" fill="#111" font-weight="normal" stroke="#111" stroke-width="0.2" >Pt/C</text>
<line x1="246.2" y1="76.5" x2="263.4" y2="76.5" stroke="#f0bb80" stroke-width="1.8" />
<circle cx="254.8" cy="76.5" r="1.3" fill="#f9e7d2" stroke="#f0bb80" stroke-width="0.8"/>
<text x="266.4" y="79.6" font-size="8.7" text-anchor="start" fill="#111" font-weight="normal" stroke="#111" stroke-width="0.2" >S-Fe-N-C</text>
<line x1="246.2" y1="86.4" x2="263.4" y2="86.4" stroke="#0000ff" stroke-width="1.8" />
<circle cx="254.8" cy="86.4" r="1.3" fill="#a5a5ff" stroke="#0000ff" stroke-width="0.8"/>
<text x="266.4" y="89.5" font-size="8.7" text-anchor="start" fill="#111" font-weight="normal" stroke="#111" stroke-width="0.2" >R-FeCo-N-C</text>
<line x1="246.2" y1="96.3" x2="263.4" y2="96.3" stroke="#9900cc" stroke-width="1.8" />
<circle cx="254.8" cy="96.3" r="1.3" fill="#dba5ed" stroke="#9900cc" stroke-width="0.8"/>
<text x="266.4" y="99.4" font-size="8.7" text-anchor="start" fill="#111" font-weight="normal" stroke="#111" stroke-width="0.2" >S-Co-N-C</text>
<path d="M260,115.6 L260,106.1 L252,106.1" fill="none" stroke="#c00000" stroke-width="1.9" />
<path d="M246.6,106.1 L254,102.5 L254,109.8 Z" fill="#c00000" stroke="none" stroke-width="1.5" />
<path d="M391.1,62.9 L391.1,73.1 L400,73.1" fill="none" stroke="#c00000" stroke-width="1.9" />
<path d="M406.4,73.1 L399,69.5 L399,76.8 Z" fill="#c00000" stroke="none" stroke-width="1.5" />
<text x="215.8" y="10.9" font-size="13.3" text-anchor="start" fill="#000" font-weight="bold" stroke="#000" stroke-width="0.3">b</text>
<polyline points="518.9,19.5 525.16,24.41 531.42,29.32 537.68,34.23 543.94,39.14 550.2,44.05 556.46,48.96 562.72,53.87 568.98,58.78 575.24,63.69 581.5,68.6 587.76,73.51 594.02,78.42 600.28,83.33 606.54,88.24 612.8,93.15 619.06,98.06 625.32,102.97 631.58,107.88 637.84,112.79 644.1,117.7" fill="none" stroke="#0000ff" stroke-width="1.7" stroke-linejoin="round" />
<circle cx="518.9" cy="19.5" r="1.3" fill="#a5a5ff" stroke="#0000ff" stroke-width="0.8"/>
<circle cx="525.16" cy="24.41" r="1.3" fill="#a5a5ff" stroke="#0000ff" stroke-width="0.8"/>
<circle cx="531.42" cy="29.32" r="1.3" fill="#a5a5ff" stroke="#0000ff" stroke-width="0.8"/>
<circle cx="537.68" cy="34.23" r="1.3" fill="#a5a5ff" stroke="#0000ff" stroke-width="0.8"/>
<circle cx="543.94" cy="39.14" r="1.3" fill="#a5a5ff" stroke="#0000ff" stroke-width="0.8"/>
<circle cx="550.2" cy="44.05" r="1.3" fill="#a5a5ff" stroke="#0000ff" stroke-width="0.8"/>
<circle cx="556.46" cy="48.96" r="1.3" fill="#a5a5ff" stroke="#0000ff" stroke-width="0.8"/>
<circle cx="562.72" cy="53.87" r="1.3" fill="#a5a5ff" stroke="#0000ff" stroke-width="0.8"/>
<circle cx="568.98" cy="58.78" r="1.3" fill="#a5a5ff" stroke="#0000ff" stroke-width="0.8"/>
<circle cx="575.24" cy="63.69" r="1.3" fill="#a5a5ff" stroke="#0000ff" stroke-width="0.8"/>
<circle cx="581.5" cy="68.6" r="1.3" fill="#a5a5ff" stroke="#0000ff" stroke-width="0.8"/>
<circle cx="587.76" cy="73.51" r="1.3" fill="#a5a5ff" stroke="#0000ff" stroke-width="0.8"/>
<circle cx="594.02" cy="78.42" r="1.3" fill="#a5a5ff" stroke="#0000ff" stroke-width="0.8"/>
<circle cx="600.28" cy="83.33" r="1.3" fill="#a5a5ff" stroke="#0000ff" stroke-width="0.8"/>
<circle cx="606.54" cy="88.24" r="1.3" fill="#a5a5ff" stroke="#0000ff" stroke-width="0.8"/>
<circle cx="612.8" cy="93.15" r="1.3" fill="#a5a5ff" stroke="#0000ff" stroke-width="0.8"/>
<circle cx="619.06" cy="98.06" r="1.3" fill="#a5a5ff" stroke="#0000ff" stroke-width="0.8"/>
<circle cx="625.32" cy="102.97" r="1.3" fill="#a5a5ff" stroke="#0000ff" stroke-width="0.8"/>
<circle cx="631.58" cy="107.88" r="1.3" fill="#a5a5ff" stroke="#0000ff" stroke-width="0.8"/>
<circle cx="637.84" cy="112.79" r="1.3" fill="#a5a5ff" stroke="#0000ff" stroke-width="0.8"/>
<circle cx="644.1" cy="117.7" r="1.3" fill="#a5a5ff" stroke="#0000ff" stroke-width="0.8"/>
<polyline points="546.6,18.7 551.66,21.27 556.73,23.84 561.8,26.41 566.86,28.98 571.92,31.55 576.99,34.12 582.06,36.69 587.12,39.26 592.18,41.83 597.25,44.4 602.32,46.97 607.38,49.54 612.44,52.11 617.51,54.68 622.58,57.25 627.64,59.82 632.7,62.39 637.77,64.96 642.84,67.53 647.9,70.1" fill="none" stroke="#ff8000" stroke-width="1.7" stroke-linejoin="round" />
<circle cx="546.6" cy="18.7" r="1.3" fill="#ffd2a5" stroke="#ff8000" stroke-width="0.8"/>
<circle cx="551.66" cy="21.27" r="1.3" fill="#ffd2a5" stroke="#ff8000" stroke-width="0.8"/>
<circle cx="556.73" cy="23.84" r="1.3" fill="#ffd2a5" stroke="#ff8000" stroke-width="0.8"/>
<circle cx="561.8" cy="26.41" r="1.3" fill="#ffd2a5" stroke="#ff8000" stroke-width="0.8"/>
<circle cx="566.86" cy="28.98" r="1.3" fill="#ffd2a5" stroke="#ff8000" stroke-width="0.8"/>
<circle cx="571.92" cy="31.55" r="1.3" fill="#ffd2a5" stroke="#ff8000" stroke-width="0.8"/>
<circle cx="576.99" cy="34.12" r="1.3" fill="#ffd2a5" stroke="#ff8000" stroke-width="0.8"/>
<circle cx="582.06" cy="36.69" r="1.3" fill="#ffd2a5" stroke="#ff8000" stroke-width="0.8"/>
<circle cx="587.12" cy="39.26" r="1.3" fill="#ffd2a5" stroke="#ff8000" stroke-width="0.8"/>
<circle cx="592.18" cy="41.83" r="1.3" fill="#ffd2a5" stroke="#ff8000" stroke-width="0.8"/>
<circle cx="597.25" cy="44.4" r="1.3" fill="#ffd2a5" stroke="#ff8000" stroke-width="0.8"/>
<circle cx="602.32" cy="46.97" r="1.3" fill="#ffd2a5" stroke="#ff8000" stroke-width="0.8"/>
<circle cx="607.38" cy="49.54" r="1.3" fill="#ffd2a5" stroke="#ff8000" stroke-width="0.8"/>
<circle cx="612.44" cy="52.11" r="1.3" fill="#ffd2a5" stroke="#ff8000" stroke-width="0.8"/>
<circle cx="617.51" cy="54.68" r="1.3" fill="#ffd2a5" stroke="#ff8000" stroke-width="0.8"/>
<circle cx="622.58" cy="57.25" r="1.3" fill="#ffd2a5" stroke="#ff8000" stroke-width="0.8"/>
<circle cx="627.64" cy="59.82" r="1.3" fill="#ffd2a5" stroke="#ff8000" stroke-width="0.8"/>
<circle cx="632.7" cy="62.39" r="1.3" fill="#ffd2a5" stroke="#ff8000" stroke-width="0.8"/>
<circle cx="637.77" cy="64.96" r="1.3" fill="#ffd2a5" stroke="#ff8000" stroke-width="0.8"/>
<circle cx="642.84" cy="67.53" r="1.3" fill="#ffd2a5" stroke="#ff8000" stroke-width="0.8"/>
<circle cx="647.9" cy="70.1" r="1.3" fill="#ffd2a5" stroke="#ff8000" stroke-width="0.8"/>
<polyline points="564.2,20 567.56,22.33 570.93,24.65 574.29,26.98 577.65,29.31 581.02,31.64 584.38,33.96 587.75,36.29 591.11,38.62 594.47,40.95 597.84,43.27 601.2,45.6" fill="none" stroke="#ff0000" stroke-width="1.7" stroke-linejoin="round" />
<circle cx="564.2" cy="20" r="1.3" fill="#ffa5a5" stroke="#ff0000" stroke-width="0.8"/>
<circle cx="567.56" cy="22.33" r="1.3" fill="#ffa5a5" stroke="#ff0000" stroke-width="0.8"/>
<circle cx="570.93" cy="24.65" r="1.3" fill="#ffa5a5" stroke="#ff0000" stroke-width="0.8"/>
<circle cx="574.29" cy="26.98" r="1.3" fill="#ffa5a5" stroke="#ff0000" stroke-width="0.8"/>
<circle cx="577.65" cy="29.31" r="1.3" fill="#ffa5a5" stroke="#ff0000" stroke-width="0.8"/>
<circle cx="581.02" cy="31.64" r="1.3" fill="#ffa5a5" stroke="#ff0000" stroke-width="0.8"/>
<circle cx="584.38" cy="33.96" r="1.3" fill="#ffa5a5" stroke="#ff0000" stroke-width="0.8"/>
<circle cx="587.75" cy="36.29" r="1.3" fill="#ffa5a5" stroke="#ff0000" stroke-width="0.8"/>
<circle cx="591.11" cy="38.62" r="1.3" fill="#ffa5a5" stroke="#ff0000" stroke-width="0.8"/>
<circle cx="594.47" cy="40.95" r="1.3" fill="#ffa5a5" stroke="#ff0000" stroke-width="0.8"/>
<circle cx="597.84" cy="43.27" r="1.3" fill="#ffa5a5" stroke="#ff0000" stroke-width="0.8"/>
<circle cx="601.2" cy="45.6" r="1.3" fill="#ffa5a5" stroke="#ff0000" stroke-width="0.8"/>
<polyline points="572.8,41.1 576.77,44.62 580.75,48.14 584.72,51.66 588.7,55.18 592.67,58.7 596.65,62.22 600.62,65.74 604.6,69.26 608.57,72.78 612.55,76.3 616.52,79.82 620.5,83.34 624.47,86.86 628.45,90.38 632.42,93.9 636.4,97.42 640.38,100.94 644.35,104.46 648.32,107.98 652.3,111.5" fill="none" stroke="#f0bb80" stroke-width="1.7" stroke-linejoin="round" />
<circle cx="572.8" cy="41.1" r="1.3" fill="#f9e7d2" stroke="#f0bb80" stroke-width="0.8"/>
<circle cx="576.77" cy="44.62" r="1.3" fill="#f9e7d2" stroke="#f0bb80" stroke-width="0.8"/>
<circle cx="580.75" cy="48.14" r="1.3" fill="#f9e7d2" stroke="#f0bb80" stroke-width="0.8"/>
<circle cx="584.72" cy="51.66" r="1.3" fill="#f9e7d2" stroke="#f0bb80" stroke-width="0.8"/>
<circle cx="588.7" cy="55.18" r="1.3" fill="#f9e7d2" stroke="#f0bb80" stroke-width="0.8"/>
<circle cx="592.67" cy="58.7" r="1.3" fill="#f9e7d2" stroke="#f0bb80" stroke-width="0.8"/>
<circle cx="596.65" cy="62.22" r="1.3" fill="#f9e7d2" stroke="#f0bb80" stroke-width="0.8"/>
<circle cx="600.62" cy="65.74" r="1.3" fill="#f9e7d2" stroke="#f0bb80" stroke-width="0.8"/>
<circle cx="604.6" cy="69.26" r="1.3" fill="#f9e7d2" stroke="#f0bb80" stroke-width="0.8"/>
<circle cx="608.57" cy="72.78" r="1.3" fill="#f9e7d2" stroke="#f0bb80" stroke-width="0.8"/>
<circle cx="612.55" cy="76.3" r="1.3" fill="#f9e7d2" stroke="#f0bb80" stroke-width="0.8"/>
<circle cx="616.52" cy="79.82" r="1.3" fill="#f9e7d2" stroke="#f0bb80" stroke-width="0.8"/>
<circle cx="620.5" cy="83.34" r="1.3" fill="#f9e7d2" stroke="#f0bb80" stroke-width="0.8"/>
<circle cx="624.47" cy="86.86" r="1.3" fill="#f9e7d2" stroke="#f0bb80" stroke-width="0.8"/>
<circle cx="628.45" cy="90.38" r="1.3" fill="#f9e7d2" stroke="#f0bb80" stroke-width="0.8"/>
<circle cx="632.42" cy="93.9" r="1.3" fill="#f9e7d2" stroke="#f0bb80" stroke-width="0.8"/>
<circle cx="636.4" cy="97.42" r="1.3" fill="#f9e7d2" stroke="#f0bb80" stroke-width="0.8"/>
<circle cx="640.38" cy="100.94" r="1.3" fill="#f9e7d2" stroke="#f0bb80" stroke-width="0.8"/>
<circle cx="644.35" cy="104.46" r="1.3" fill="#f9e7d2" stroke="#f0bb80" stroke-width="0.8"/>
<circle cx="648.32" cy="107.98" r="1.3" fill="#f9e7d2" stroke="#f0bb80" stroke-width="0.8"/>
<circle cx="652.3" cy="111.5" r="1.3" fill="#f9e7d2" stroke="#f0bb80" stroke-width="0.8"/>
<polyline points="591.3,95.7 595.66,99.32 600.02,102.95 604.38,106.57 608.75,110.19 613.11,113.82 617.47,117.44 621.83,121.06 626.19,124.68 630.55,128.31 634.92,131.93 639.28,135.55 643.64,139.18 648,142.8" fill="none" stroke="#9900cc" stroke-width="1.7" stroke-linejoin="round" />
<circle cx="591.3" cy="95.7" r="1.3" fill="#dba5ed" stroke="#9900cc" stroke-width="0.8"/>
<circle cx="595.66" cy="99.32" r="1.3" fill="#dba5ed" stroke="#9900cc" stroke-width="0.8"/>
<circle cx="600.02" cy="102.95" r="1.3" fill="#dba5ed" stroke="#9900cc" stroke-width="0.8"/>
<circle cx="604.38" cy="106.57" r="1.3" fill="#dba5ed" stroke="#9900cc" stroke-width="0.8"/>
<circle cx="608.75" cy="110.19" r="1.3" fill="#dba5ed" stroke="#9900cc" stroke-width="0.8"/>
<circle cx="613.11" cy="113.82" r="1.3" fill="#dba5ed" stroke="#9900cc" stroke-width="0.8"/>
<circle cx="617.47" cy="117.44" r="1.3" fill="#dba5ed" stroke="#9900cc" stroke-width="0.8"/>
<circle cx="621.83" cy="121.06" r="1.3" fill="#dba5ed" stroke="#9900cc" stroke-width="0.8"/>
<circle cx="626.19" cy="124.68" r="1.3" fill="#dba5ed" stroke="#9900cc" stroke-width="0.8"/>
<circle cx="630.55" cy="128.31" r="1.3" fill="#dba5ed" stroke="#9900cc" stroke-width="0.8"/>
<circle cx="634.92" cy="131.93" r="1.3" fill="#dba5ed" stroke="#9900cc" stroke-width="0.8"/>
<circle cx="639.28" cy="135.55" r="1.3" fill="#dba5ed" stroke="#9900cc" stroke-width="0.8"/>
<circle cx="643.64" cy="139.18" r="1.3" fill="#dba5ed" stroke="#9900cc" stroke-width="0.8"/>
<circle cx="648" cy="142.8" r="1.3" fill="#dba5ed" stroke="#9900cc" stroke-width="0.8"/>
<rect x="485.8" y="7.9" width="177.1" height="141.8" fill="none" stroke="#000" stroke-width="1.65"/>
<line x1="485.8" y1="149.7" x2="485.8" y2="146.7" stroke="#000" stroke-width="1.1" />
<line x1="517.42" y1="149.7" x2="517.42" y2="146.7" stroke="#000" stroke-width="1.1" />
<line x1="549.05" y1="149.7" x2="549.05" y2="146.7" stroke="#000" stroke-width="1.1" />
<line x1="580.67" y1="149.7" x2="580.67" y2="146.7" stroke="#000" stroke-width="1.1" />
<line x1="612.3" y1="149.7" x2="612.3" y2="146.7" stroke="#000" stroke-width="1.1" />
<line x1="643.92" y1="149.7" x2="643.92" y2="146.7" stroke="#000" stroke-width="1.1" />
<line x1="501.61" y1="149.7" x2="501.61" y2="147.9" stroke="#000" stroke-width="1.0" />
<line x1="533.24" y1="149.7" x2="533.24" y2="147.9" stroke="#000" stroke-width="1.0" />
<line x1="564.86" y1="149.7" x2="564.86" y2="147.9" stroke="#000" stroke-width="1.0" />
<line x1="596.49" y1="149.7" x2="596.49" y2="147.9" stroke="#000" stroke-width="1.0" />
<line x1="628.11" y1="149.7" x2="628.11" y2="147.9" stroke="#000" stroke-width="1.0" />
<line x1="659.74" y1="149.7" x2="659.74" y2="147.9" stroke="#000" stroke-width="1.0" />
<text x="485.8" y="158.9" font-size="8.0" text-anchor="middle" fill="#111" font-weight="normal" stroke="#111" stroke-width="0.2" >-2.0</text>
<text x="517.42" y="158.9" font-size="8.0" text-anchor="middle" fill="#111" font-weight="normal" stroke="#111" stroke-width="0.2" >-1.5</text>
<text x="549.05" y="158.9" font-size="8.0" text-anchor="middle" fill="#111" font-weight="normal" stroke="#111" stroke-width="0.2" >-1.0</text>
<text x="580.67" y="158.9" font-size="8.0" text-anchor="middle" fill="#111" font-weight="normal" stroke="#111" stroke-width="0.2" >-0.5</text>
<text x="612.3" y="158.9" font-size="8.0" text-anchor="middle" fill="#111" font-weight="normal" stroke="#111" stroke-width="0.2" >0.0</text>
<text x="643.92" y="158.9" font-size="8.0" text-anchor="middle" fill="#111" font-weight="normal" stroke="#111" stroke-width="0.2" >0.5</text>
<line x1="485.8" y1="149.5" x2="488.8" y2="149.5" stroke="#000" stroke-width="1.1" />
<line x1="485.8" y1="123.6" x2="488.8" y2="123.6" stroke="#000" stroke-width="1.1" />
<line x1="485.8" y1="97.7" x2="488.8" y2="97.7" stroke="#000" stroke-width="1.1" />
<line x1="485.8" y1="71.8" x2="488.8" y2="71.8" stroke="#000" stroke-width="1.1" />
<line x1="485.8" y1="45.9" x2="488.8" y2="45.9" stroke="#000" stroke-width="1.1" />
<line x1="485.8" y1="20" x2="488.8" y2="20" stroke="#000" stroke-width="1.1" />
<line x1="485.8" y1="136.55" x2="487.6" y2="136.55" stroke="#000" stroke-width="1.0" />
<line x1="485.8" y1="110.65" x2="487.6" y2="110.65" stroke="#000" stroke-width="1.0" />
<line x1="485.8" y1="84.75" x2="487.6" y2="84.75" stroke="#000" stroke-width="1.0" />
<line x1="485.8" y1="58.85" x2="487.6" y2="58.85" stroke="#000" stroke-width="1.0" />
<line x1="485.8" y1="32.95" x2="487.6" y2="32.95" stroke="#000" stroke-width="1.0" />
<text x="482.6" y="152.3" font-size="8.0" text-anchor="end" fill="#111" font-weight="normal" stroke="#111" stroke-width="0.2" >0.70</text>
<text x="482.6" y="126.4" font-size="8.0" text-anchor="end" fill="#111" font-weight="normal" stroke="#111" stroke-width="0.2" >0.75</text>
<text x="482.6" y="100.5" font-size="8.0" text-anchor="end" fill="#111" font-weight="normal" stroke="#111" stroke-width="0.2" >0.80</text>
<text x="482.6" y="74.6" font-size="8.0" text-anchor="end" fill="#111" font-weight="normal" stroke="#111" stroke-width="0.2" >0.85</text>
<text x="482.6" y="48.7" font-size="8.0" text-anchor="end" fill="#111" font-weight="normal" stroke="#111" stroke-width="0.2" >0.90</text>
<text x="482.6" y="22.8" font-size="8.0" text-anchor="end" fill="#111" font-weight="normal" stroke="#111" stroke-width="0.2" >0.95</text>
<text x="576.6" y="169.1" font-size="8.4" text-anchor="middle" fill="#111" font-weight="normal" stroke="#111" stroke-width="0.2" >Log (|J<tspan font-size="5.6" dy="2.0">K</tspan><tspan dy="-2.0">| / mA cm<tspan font-size="5.6" dy="-3.2">-2</tspan><tspan dy="3.2">)</tspan></tspan></text>
<text x="463.5" y="74.7" font-size="8.4" text-anchor="middle" fill="#111" font-weight="normal" stroke="#111" stroke-width="0.2" transform="rotate(-90 463.5 74.7)" >Potential (V vs. RHE)</text>
<line x1="489.2" y1="101.7" x2="505.9" y2="101.7" stroke="#ff0000" stroke-width="1.8" />
<circle cx="497.5" cy="101.7" r="1.3" fill="#ffa5a5" stroke="#ff0000" stroke-width="0.8"/>
<text x="508.4" y="104.7" font-size="8.55" text-anchor="start" fill="#111" font-weight="normal" stroke="#111" stroke-width="0.2" >T-FeCo-N-C</text>
<line x1="489.2" y1="110.4" x2="505.9" y2="110.4" stroke="#ff8000" stroke-width="1.8" />
<circle cx="497.5" cy="110.4" r="1.3" fill="#ffd2a5" stroke="#ff8000" stroke-width="0.8"/>
<text x="508.4" y="113.4" font-size="8.55" text-anchor="start" fill="#111" font-weight="normal" stroke="#111" stroke-width="0.2" >Pt/C</text>
<line x1="489.2" y1="119.1" x2="505.9" y2="119.1" stroke="#f0bb80" stroke-width="1.8" />
<circle cx="497.5" cy="119.1" r="1.3" fill="#f9e7d2" stroke="#f0bb80" stroke-width="0.8"/>
<text x="508.4" y="122.1" font-size="8.55" text-anchor="start" fill="#111" font-weight="normal" stroke="#111" stroke-width="0.2" >S-Fe-N-C</text>
<line x1="489.2" y1="127.8" x2="505.9" y2="127.8" stroke="#0000ff" stroke-width="1.8" />
<circle cx="497.5" cy="127.8" r="1.3" fill="#a5a5ff" stroke="#0000ff" stroke-width="0.8"/>
<text x="508.4" y="130.8" font-size="8.55" text-anchor="start" fill="#111" font-weight="normal" stroke="#111" stroke-width="0.2" >R-FeCo-N-C</text>
<line x1="489.2" y1="136.5" x2="505.9" y2="136.5" stroke="#9900cc" stroke-width="1.8" />
<circle cx="497.5" cy="136.5" r="1.3" fill="#dba5ed" stroke="#9900cc" stroke-width="0.8"/>
<text x="508.4" y="139.5" font-size="8.55" text-anchor="start" fill="#111" font-weight="normal" stroke="#111" stroke-width="0.2" >S-Co-N-C</text>
<text x="464.8" y="10.9" font-size="13.3" text-anchor="start" fill="#000" font-weight="bold" stroke="#000" stroke-width="0.3">c</text>
<line x1="42.88" y1="188.4" x2="42.88" y2="331" stroke="#b4b4b4" stroke-width="0.8" stroke-dasharray="1,1.2"/>
<line x1="82.23" y1="188.4" x2="82.23" y2="331" stroke="#b4b4b4" stroke-width="0.8" stroke-dasharray="1,1.2"/>
<line x1="121.59" y1="188.4" x2="121.59" y2="331" stroke="#b4b4b4" stroke-width="0.8" stroke-dasharray="1,1.2"/>
<line x1="160.94" y1="188.4" x2="160.94" y2="331" stroke="#b4b4b4" stroke-width="0.8" stroke-dasharray="1,1.2"/>
<line x1="23.2" y1="202.5" x2="200.3" y2="202.5" stroke="#b4b4b4" stroke-width="0.8" stroke-dasharray="1,1.2"/>
<line x1="23.2" y1="231.15" x2="200.3" y2="231.15" stroke="#b4b4b4" stroke-width="0.8" stroke-dasharray="1,1.2"/>
<line x1="23.2" y1="259.8" x2="200.3" y2="259.8" stroke="#b4b4b4" stroke-width="0.8" stroke-dasharray="1,1.2"/>
<line x1="23.2" y1="288.45" x2="200.3" y2="288.45" stroke="#b4b4b4" stroke-width="0.8" stroke-dasharray="1,1.2"/>
<line x1="23.2" y1="317.1" x2="200.3" y2="317.1" stroke="#b4b4b4" stroke-width="0.8" stroke-dasharray="1,1.2"/>
<polyline points="23.5,320.3 43.4,320.1 81.9,319.7 100,319.4 120.5,318.7 135,317 143.4,315.9 149.2,314.6 153.4,311.7 156.7,308 159.2,303.4 160.9,298.3 162.8,292 165,281.7 168.3,268.3 171.7,255 174.2,245.4 176.6,235.7 180.5,224 184.4,214.2 189.2,206.4 195.1,199.6 200,191.8" fill="none" stroke="#d9434e" stroke-width="1.5" stroke-linejoin="round" />
<polyline points="23.5,316.6 81.9,316.2 120.5,315.5 135,314.6 141,313.4 147.1,311.7 151,308.8 154.2,305.4 157.1,297.3" fill="none" stroke="#d9434e" stroke-width="1.5" stroke-linejoin="round" stroke-dasharray="8.5,8.5" />
<polyline points="157.1,297.3 160,285.8 162.8,273.3 165.3,263.3 167.5,253.3 170.1,243.3 173.3,233.7 174.6,226.9 178.5,219.1 181.4,210.3 184.5,207.5 187.3,205.5 189.2,203.5 195.1,199.6 200,191.8" fill="none" stroke="#d9434e" stroke-width="1.5" stroke-linejoin="round" stroke-dasharray="11,3.5" />
<polyline points="41.9,288.3 42.3,270 43,257 43.8,251.2 45.2,248.6 46.8,247.3 49.5,246.4 53.6,245.8 67.2,244.8 82.8,244 92,243.2 96.5,242.5 99.5,241 101.4,239.5 103.5,238.2 105.3,237.6 107.5,238.3 109.5,239.7 111.1,240.3 115,239.8 119.9,239.2 124.5,238.1 129.6,236.6 134,235 137.4,233.5 137,240 136.3,250 135.6,259 135.2,263.5 135.8,266 134.5,267.8 129,269.8 123.8,271.7 118,273.1 112.1,274.6 108.5,276.3 105.3,278.5 102.8,280.2 100.4,280.9 98,280.4 95.5,279.5 90,279 82.8,278.9 67.2,280.5 53.6,282.4 41.9,284.4" fill="none" stroke="#d9434e" stroke-width="1.5" stroke-linejoin="round" />
<polyline points="45.8,244.4 46.8,241.5 48.8,239.8 51.6,238.6 55,237.4 59.4,236.6 77,235.6 90,234.2 94.5,233.3 97.5,231.8 100.4,229.8 103.5,228.3 107.2,227.6 109.5,229 112.1,231.7 114,233.8 116,235.2 119,235.5 123.8,235.3 130,234.6 137.4,233.7" fill="none" stroke="#d9434e" stroke-width="1.5" stroke-linejoin="round" stroke-dasharray="6,5.5" />
<polyline points="135.5,269.8 132.5,272.6 129.6,274.6 123,277 116,279.5 110.5,281.2 106.2,283.4 104,286 102.3,288.3 99.5,289.8 96.5,290.2 93.5,288.3 90.5,286 86.7,284.4 77,284.8 57.5,285.4 48,286.4 41.9,287.3" fill="none" stroke="#d9434e" stroke-width="1.5" stroke-linejoin="round" stroke-dasharray="6,5.5" />
<line x1="72.5" y1="259.2" x2="72.5" y2="236" stroke="#c0504d" stroke-width="1.1" />
<path d="M72.5,227.9 L69.0,237.6 L76.0,237.6 Z" fill="#c0504d" stroke="none" stroke-width="1.5" />
<line x1="185.2" y1="262.9" x2="160.5" y2="253.8" stroke="#c0504d" stroke-width="1.1" />
<path d="M154.7,251.5 L162.0,250.6 L160.0,256.4 Z" fill="#c0504d" stroke="none" stroke-width="1.5" />
<text x="52.3" y="239" font-size="8.4" text-anchor="start" fill="#111" font-weight="normal" stroke="#111" stroke-width="0.2" >36%</text>
<text x="145.9" y="246.5" font-size="8.4" text-anchor="start" fill="#111" font-weight="normal" stroke="#111" stroke-width="0.2" >15 mV</text>
<rect x="23.2" y="188.4" width="177.1" height="142.6" fill="none" stroke="#000" stroke-width="1.65"/>
<line x1="42.88" y1="331" x2="42.88" y2="328" stroke="#000" stroke-width="1.1" />
<line x1="82.23" y1="331" x2="82.23" y2="328" stroke="#000" stroke-width="1.1" />
<line x1="121.59" y1="331" x2="121.59" y2="328" stroke="#000" stroke-width="1.1" />
<line x1="160.94" y1="331" x2="160.94" y2="328" stroke="#000" stroke-width="1.1" />
<line x1="200.3" y1="331" x2="200.3" y2="328" stroke="#000" stroke-width="1.1" />
<line x1="62.56" y1="331" x2="62.56" y2="329.2" stroke="#000" stroke-width="1.0" />
<line x1="101.91" y1="331" x2="101.91" y2="329.2" stroke="#000" stroke-width="1.0" />
<line x1="141.27" y1="331" x2="141.27" y2="329.2" stroke="#000" stroke-width="1.0" />
<line x1="180.62" y1="331" x2="180.62" y2="329.2" stroke="#000" stroke-width="1.0" />
<text x="42.88" y="340.9" font-size="8.4" text-anchor="middle" fill="#111" font-weight="normal" stroke="#111" stroke-width="0.2" >0.2</text>
<text x="82.23" y="340.9" font-size="8.4" text-anchor="middle" fill="#111" font-weight="normal" stroke="#111" stroke-width="0.2" >0.4</text>
<text x="121.59" y="340.9" font-size="8.4" text-anchor="middle" fill="#111" font-weight="normal" stroke="#111" stroke-width="0.2" >0.6</text>
<text x="160.94" y="340.9" font-size="8.4" text-anchor="middle" fill="#111" font-weight="normal" stroke="#111" stroke-width="0.2" >0.8</text>
<text x="200.3" y="340.9" font-size="8.4" text-anchor="middle" fill="#111" font-weight="normal" stroke="#111" stroke-width="0.2" >1.0</text>
<line x1="23.2" y1="202.5" x2="26.2" y2="202.5" stroke="#000" stroke-width="1.1" />
<line x1="23.2" y1="231.15" x2="26.2" y2="231.15" stroke="#000" stroke-width="1.1" />
<line x1="23.2" y1="259.8" x2="26.2" y2="259.8" stroke="#000" stroke-width="1.1" />
<line x1="23.2" y1="288.45" x2="26.2" y2="288.45" stroke="#000" stroke-width="1.1" />
<line x1="23.2" y1="317.1" x2="26.2" y2="317.1" stroke="#000" stroke-width="1.1" />
<line x1="23.2" y1="188.18" x2="25" y2="188.18" stroke="#000" stroke-width="1.0" />
<line x1="23.2" y1="216.82" x2="25" y2="216.82" stroke="#000" stroke-width="1.0" />
<line x1="23.2" y1="245.47" x2="25" y2="245.47" stroke="#000" stroke-width="1.0" />
<line x1="23.2" y1="274.12" x2="25" y2="274.12" stroke="#000" stroke-width="1.0" />
<line x1="23.2" y1="302.77" x2="25" y2="302.77" stroke="#000" stroke-width="1.0" />
<line x1="23.2" y1="331.42" x2="25" y2="331.42" stroke="#000" stroke-width="1.0" />
<text x="20" y="205.5" font-size="8.4" text-anchor="end" fill="#111" font-weight="normal" stroke="#111" stroke-width="0.2" >0</text>
<text x="20" y="234.15" font-size="8.4" text-anchor="end" fill="#111" font-weight="normal" stroke="#111" stroke-width="0.2" >-1</text>
<text x="20" y="262.8" font-size="8.4" text-anchor="end" fill="#111" font-weight="normal" stroke="#111" stroke-width="0.2" >-2</text>
<text x="20" y="291.45" font-size="8.4" text-anchor="end" fill="#111" font-weight="normal" stroke="#111" stroke-width="0.2" >-3</text>
<text x="20" y="320.1" font-size="8.4" text-anchor="end" fill="#111" font-weight="normal" stroke="#111" stroke-width="0.2" >-4</text>
<text x="113.5" y="353.6" font-size="8.4" text-anchor="middle" fill="#111" font-weight="normal" stroke="#111" stroke-width="0.2" >Potential (V vs. RHE)</text>
<text x="8.2" y="257.7" font-size="8.4" text-anchor="middle" fill="#111" font-weight="normal" stroke="#111" stroke-width="0.2" transform="rotate(-90 8.2 257.7)" >Current Density (mA cm<tspan font-size="5.6" dy="-3.2">-2</tspan><tspan dy="3.2">)</tspan></text>
<line x1="29.1" y1="201" x2="47.4" y2="201" stroke="#d9434e" stroke-width="1.5" />
<line x1="29.1" y1="210.2" x2="38.2" y2="210.2" stroke="#d9434e" stroke-width="1.5" />
<text x="47.6" y="205.4" font-size="8.5" text-anchor="start" fill="#111" font-weight="normal" stroke="#111" stroke-width="0.2" >T-FeCo-N-C, initial</text>
<text x="47.6" y="216.2" font-size="8.5" text-anchor="start" fill="#111" font-weight="normal" stroke="#111" stroke-width="0.2" >T-FeCo-N-C, after 10k cycles</text>
<text x="8.5" y="189.1" font-size="13.3" text-anchor="start" fill="#000" font-weight="bold" stroke="#000" stroke-width="0.3">d</text>
<polyline points="242,203.4 243.3,210.4 247.5,217.9 255.6,225.1 265.1,232.2 276.5,238.8 287.4,246.2 298.8,253.4 310.5,260.2 322.2,267.4 333.9,274.4 345.2,281.5 358.1,289.5 370.3,296.1 383.2,302.8" fill="none" stroke="#ff0000" stroke-width="1.9" stroke-linejoin="round" />
<polyline points="242,330.4 243.3,326.3 247.5,313.8 255.6,293.5 265.1,271 276.5,247.8 287.4,229.6 298.8,214.4 310.5,204.4 322.2,198 333.9,195.5 345.2,197.2 358.1,203.2 370.3,213.4 383.2,227.6" fill="none" stroke="#ff0000" stroke-width="1.9" stroke-linejoin="round" />
<polyline points="242.3,219.5 244.3,224.8 246.7,232.7 249.7,238.8 254.5,246.2 261.5,253.4 271.2,260.7 282.3,266.5 298.8,274.8 317.9,281.7 338.7,288.5 354.5,295.3 363,302.5" fill="none" stroke="#ff0000" stroke-width="1.9" stroke-linejoin="round" stroke-dasharray="10,3,1.6,3" />
<polyline points="242.3,329.36 244.3,323.94 246.7,318.36 249.7,311.99 254.5,302.99 261.5,291.34 271.2,277.46 282.3,263.4 298.8,248.19 317.9,234.1 338.7,224.72 354.5,227.26 363,242.03" fill="none" stroke="#ff0000" stroke-width="1.9" stroke-linejoin="round" stroke-dasharray="10,3,1.6,3" />
<circle cx="247.5" cy="217.9" r="1.25" fill="#ffc0c0" stroke="#ff0000" stroke-width="0.8"/>
<circle cx="255.6" cy="225.1" r="1.25" fill="#ffc0c0" stroke="#ff0000" stroke-width="0.8"/>
<circle cx="265.1" cy="232.2" r="1.25" fill="#ffc0c0" stroke="#ff0000" stroke-width="0.8"/>
<circle cx="276.5" cy="238.8" r="1.25" fill="#ffc0c0" stroke="#ff0000" stroke-width="0.8"/>
<circle cx="287.4" cy="246.2" r="1.25" fill="#ffc0c0" stroke="#ff0000" stroke-width="0.8"/>
<circle cx="298.8" cy="253.4" r="1.25" fill="#ffc0c0" stroke="#ff0000" stroke-width="0.8"/>
<circle cx="310.5" cy="260.2" r="1.25" fill="#ffc0c0" stroke="#ff0000" stroke-width="0.8"/>
<circle cx="322.2" cy="267.4" r="1.25" fill="#ffc0c0" stroke="#ff0000" stroke-width="0.8"/>
<circle cx="333.9" cy="274.4" r="1.25" fill="#ffc0c0" stroke="#ff0000" stroke-width="0.8"/>
<circle cx="345.2" cy="281.5" r="1.25" fill="#ffc0c0" stroke="#ff0000" stroke-width="0.8"/>
<circle cx="358.1" cy="289.5" r="1.25" fill="#ffc0c0" stroke="#ff0000" stroke-width="0.8"/>
<circle cx="370.3" cy="296.1" r="1.25" fill="#ffc0c0" stroke="#ff0000" stroke-width="0.8"/>
<circle cx="383.2" cy="302.8" r="1.25" fill="#ffc0c0" stroke="#ff0000" stroke-width="0.8"/>
<circle cx="247.5" cy="313.8" r="1.25" fill="#ffc0c0" stroke="#ff0000" stroke-width="0.8"/>
<circle cx="255.6" cy="293.5" r="1.25" fill="#ffc0c0" stroke="#ff0000" stroke-width="0.8"/>
<circle cx="265.1" cy="271" r="1.25" fill="#ffc0c0" stroke="#ff0000" stroke-width="0.8"/>
<circle cx="276.5" cy="247.8" r="1.25" fill="#ffc0c0" stroke="#ff0000" stroke-width="0.8"/>
<circle cx="287.4" cy="229.6" r="1.25" fill="#ffc0c0" stroke="#ff0000" stroke-width="0.8"/>
<circle cx="298.8" cy="214.4" r="1.25" fill="#ffc0c0" stroke="#ff0000" stroke-width="0.8"/>
<circle cx="310.5" cy="204.4" r="1.25" fill="#ffc0c0" stroke="#ff0000" stroke-width="0.8"/>
<circle cx="322.2" cy="198" r="1.25" fill="#ffc0c0" stroke="#ff0000" stroke-width="0.8"/>
<circle cx="333.9" cy="195.5" r="1.25" fill="#ffc0c0" stroke="#ff0000" stroke-width="0.8"/>
<circle cx="345.2" cy="197.2" r="1.25" fill="#ffc0c0" stroke="#ff0000" stroke-width="0.8"/>
<circle cx="358.1" cy="203.2" r="1.25" fill="#ffc0c0" stroke="#ff0000" stroke-width="0.8"/>
<circle cx="370.3" cy="213.4" r="1.25" fill="#ffc0c0" stroke="#ff0000" stroke-width="0.8"/>
<circle cx="383.2" cy="227.6" r="1.25" fill="#ffc0c0" stroke="#ff0000" stroke-width="0.8"/>
<circle cx="244.3" cy="224.8" r="1.45" fill="#fff" stroke="#ff0000" stroke-width="0.8"/>
<circle cx="246.7" cy="232.7" r="1.45" fill="#fff" stroke="#ff0000" stroke-width="0.8"/>
<circle cx="249.7" cy="238.8" r="1.45" fill="#fff" stroke="#ff0000" stroke-width="0.8"/>
<circle cx="254.5" cy="246.2" r="1.45" fill="#fff" stroke="#ff0000" stroke-width="0.8"/>
<circle cx="261.5" cy="253.4" r="1.45" fill="#fff" stroke="#ff0000" stroke-width="0.8"/>
<circle cx="271.2" cy="260.7" r="1.45" fill="#fff" stroke="#ff0000" stroke-width="0.8"/>
<circle cx="282.3" cy="266.5" r="1.45" fill="#fff" stroke="#ff0000" stroke-width="0.8"/>
<circle cx="298.8" cy="274.8" r="1.45" fill="#fff" stroke="#ff0000" stroke-width="0.8"/>
<circle cx="317.9" cy="281.7" r="1.45" fill="#fff" stroke="#ff0000" stroke-width="0.8"/>
<circle cx="338.7" cy="288.5" r="1.45" fill="#fff" stroke="#ff0000" stroke-width="0.8"/>
<circle cx="354.5" cy="295.3" r="1.45" fill="#fff" stroke="#ff0000" stroke-width="0.8"/>
<circle cx="363" cy="302.5" r="1.45" fill="#fff" stroke="#ff0000" stroke-width="0.8"/>
<circle cx="244.3" cy="323.94" r="1.45" fill="#fff" stroke="#ff0000" stroke-width="0.8"/>
<circle cx="246.7" cy="318.36" r="1.45" fill="#fff" stroke="#ff0000" stroke-width="0.8"/>
<circle cx="249.7" cy="311.99" r="1.45" fill="#fff" stroke="#ff0000" stroke-width="0.8"/>
<circle cx="254.5" cy="302.99" r="1.45" fill="#fff" stroke="#ff0000" stroke-width="0.8"/>
<circle cx="261.5" cy="291.34" r="1.45" fill="#fff" stroke="#ff0000" stroke-width="0.8"/>
<circle cx="271.2" cy="277.46" r="1.45" fill="#fff" stroke="#ff0000" stroke-width="0.8"/>
<circle cx="282.3" cy="263.4" r="1.45" fill="#fff" stroke="#ff0000" stroke-width="0.8"/>
<circle cx="298.8" cy="248.19" r="1.45" fill="#fff" stroke="#ff0000" stroke-width="0.8"/>
<circle cx="317.9" cy="234.1" r="1.45" fill="#fff" stroke="#ff0000" stroke-width="0.8"/>
<circle cx="338.7" cy="224.72" r="1.45" fill="#fff" stroke="#ff0000" stroke-width="0.8"/>
<circle cx="354.5" cy="227.26" r="1.45" fill="#fff" stroke="#ff0000" stroke-width="0.8"/>
<circle cx="363" cy="242.03" r="1.45" fill="#fff" stroke="#ff0000" stroke-width="0.8"/>
<line x1="321.7" y1="195.5" x2="347.7" y2="195.5" stroke="#4040ff" stroke-width="1.3" stroke-dasharray="3.5,2"/>
<line x1="325.9" y1="223.6" x2="352.7" y2="223.6" stroke="#4040ff" stroke-width="1.3" stroke-dasharray="3.5,2"/>
<text x="325.1" y="213.9" font-size="8.4" text-anchor="start" fill="#111" font-weight="normal" stroke="#111" stroke-width="0.2" >Keep 81%</text>
<line x1="344.9" y1="250.3" x2="361" y2="250.3" stroke="#ff0000" stroke-width="1.9" />
<circle cx="352.9" cy="250.3" r="1.2" fill="#ff0000" stroke="#ff0000" stroke-width="0.8"/>
<line x1="344.9" y1="259.9" x2="351" y2="259.9" stroke="#ff0000" stroke-width="1.9" />
<line x1="354.8" y1="259.9" x2="361" y2="259.9" stroke="#ff0000" stroke-width="1.9" />
<circle cx="352.9" cy="259.9" r="1.6" fill="#fff" stroke="#ff0000" stroke-width="0.8"/>
<text x="369.8" y="252.6" font-size="8.4" text-anchor="start" fill="#22bb22" font-weight="normal" stroke="#22bb22" stroke-width="0.2" >BOL</text>
<text x="368.6" y="262" font-size="8.4" text-anchor="start" fill="#b070b0" font-weight="normal" stroke="#b070b0" stroke-width="0.2" >10k cycles</text>
<text x="266.6" y="308.9" font-size="8.55" text-anchor="start" fill="#111" font-weight="normal" stroke="#111" stroke-width="0.2" >T-FeCo-N-C</text>
<text x="266.6" y="318.6" font-size="8.5" text-anchor="start" fill="#111" font-weight="normal" stroke="#111" stroke-width="0.2" >2 bar, 100% RH, 80 <tspan font-size="6.5" dy="-0.9">°</tspan><tspan font-size="7.8" dy="0.9">C</tspan></text>
<text x="388.7" y="320.1" font-size="8.4" text-anchor="start" fill="#111" font-weight="normal" stroke="#111" stroke-width="0.2" >H<tspan font-size="5.6" dy="2.0">2</tspan><tspan dy="-2.0">-O<tspan font-size="5.6" dy="2.0">2</tspan><tspan dy="-2.0"></tspan></tspan></text>
<rect x="241.8" y="189.4" width="177" height="141.7" fill="none" stroke="#000" stroke-width="1.65"/>
<line x1="241.8" y1="331.1" x2="241.8" y2="328.1" stroke="#000" stroke-width="1.1" />
<line x1="274" y1="331.1" x2="274" y2="328.1" stroke="#000" stroke-width="1.1" />
<line x1="306.2" y1="331.1" x2="306.2" y2="328.1" stroke="#000" stroke-width="1.1" />
<line x1="338.4" y1="331.1" x2="338.4" y2="328.1" stroke="#000" stroke-width="1.1" />
<line x1="370.6" y1="331.1" x2="370.6" y2="328.1" stroke="#000" stroke-width="1.1" />
<line x1="402.8" y1="331.1" x2="402.8" y2="328.1" stroke="#000" stroke-width="1.1" />
<line x1="257.9" y1="331.1" x2="257.9" y2="329.3" stroke="#000" stroke-width="1.0" />
<line x1="290.1" y1="331.1" x2="290.1" y2="329.3" stroke="#000" stroke-width="1.0" />
<line x1="322.3" y1="331.1" x2="322.3" y2="329.3" stroke="#000" stroke-width="1.0" />
<line x1="354.5" y1="331.1" x2="354.5" y2="329.3" stroke="#000" stroke-width="1.0" />
<line x1="386.7" y1="331.1" x2="386.7" y2="329.3" stroke="#000" stroke-width="1.0" />
<text x="241.8" y="340.9" font-size="8.4" text-anchor="middle" fill="#111" font-weight="normal" stroke="#111" stroke-width="0.2" >0</text>
<text x="274" y="340.9" font-size="8.4" text-anchor="middle" fill="#111" font-weight="normal" stroke="#111" stroke-width="0.2" >1</text>
<text x="306.2" y="340.9" font-size="8.4" text-anchor="middle" fill="#111" font-weight="normal" stroke="#111" stroke-width="0.2" >2</text>
<text x="338.4" y="340.9" font-size="8.4" text-anchor="middle" fill="#111" font-weight="normal" stroke="#111" stroke-width="0.2" >3</text>
<text x="370.6" y="340.9" font-size="8.4" text-anchor="middle" fill="#111" font-weight="normal" stroke="#111" stroke-width="0.2" >4</text>
<text x="402.8" y="340.9" font-size="8.4" text-anchor="middle" fill="#111" font-weight="normal" stroke="#111" stroke-width="0.2" >5</text>
<line x1="241.8" y1="330.8" x2="244.8" y2="330.8" stroke="#000" stroke-width="1.1" />
<line x1="241.8" y1="302.54" x2="244.8" y2="302.54" stroke="#000" stroke-width="1.1" />
<line x1="241.8" y1="274.28" x2="244.8" y2="274.28" stroke="#000" stroke-width="1.1" />
<line x1="241.8" y1="246.02" x2="244.8" y2="246.02" stroke="#000" stroke-width="1.1" />
<line x1="241.8" y1="217.76" x2="244.8" y2="217.76" stroke="#000" stroke-width="1.1" />
<line x1="241.8" y1="189.5" x2="244.8" y2="189.5" stroke="#000" stroke-width="1.1" />
<line x1="241.8" y1="316.67" x2="243.6" y2="316.67" stroke="#000" stroke-width="1.0" />
<line x1="241.8" y1="288.41" x2="243.6" y2="288.41" stroke="#000" stroke-width="1.0" />
<line x1="241.8" y1="260.15" x2="243.6" y2="260.15" stroke="#000" stroke-width="1.0" />
<line x1="241.8" y1="231.89" x2="243.6" y2="231.89" stroke="#000" stroke-width="1.0" />
<line x1="241.8" y1="203.63" x2="243.6" y2="203.63" stroke="#000" stroke-width="1.0" />
<text x="238.5" y="333.4" font-size="8.1" text-anchor="end" fill="#111" font-weight="normal" stroke="#111" stroke-width="0.2" >0.0</text>
<text x="238.5" y="305.14" font-size="8.1" text-anchor="end" fill="#111" font-weight="normal" stroke="#111" stroke-width="0.2" >0.2</text>
<text x="238.5" y="276.88" font-size="8.1" text-anchor="end" fill="#111" font-weight="normal" stroke="#111" stroke-width="0.2" >0.4</text>
<text x="238.5" y="248.62" font-size="8.1" text-anchor="end" fill="#111" font-weight="normal" stroke="#111" stroke-width="0.2" >0.6</text>
<text x="238.5" y="220.36" font-size="8.1" text-anchor="end" fill="#111" font-weight="normal" stroke="#111" stroke-width="0.2" >0.8</text>
<text x="238.5" y="192.1" font-size="8.1" text-anchor="end" fill="#111" font-weight="normal" stroke="#111" stroke-width="0.2" >1.0</text>
<line x1="418.8" y1="330.8" x2="415.8" y2="330.8" stroke="#000" stroke-width="1.1" />
<line x1="418.8" y1="295.48" x2="415.8" y2="295.48" stroke="#000" stroke-width="1.1" />
<line x1="418.8" y1="260.15" x2="415.8" y2="260.15" stroke="#000" stroke-width="1.1" />
<line x1="418.8" y1="224.82" x2="415.8" y2="224.82" stroke="#000" stroke-width="1.1" />
<line x1="418.8" y1="189.5" x2="415.8" y2="189.5" stroke="#000" stroke-width="1.1" />
<line x1="418.8" y1="313.14" x2="417" y2="313.14" stroke="#000" stroke-width="1.0" />
<line x1="418.8" y1="277.81" x2="417" y2="277.81" stroke="#000" stroke-width="1.0" />
<line x1="418.8" y1="242.49" x2="417" y2="242.49" stroke="#000" stroke-width="1.0" />
<line x1="418.8" y1="207.16" x2="417" y2="207.16" stroke="#000" stroke-width="1.0" />
<text x="421.8" y="333.3" font-size="7.6" text-anchor="start" fill="#111" font-weight="normal" stroke="#111" stroke-width="0.2" >0.0</text>
<text x="421.8" y="297.98" font-size="7.6" text-anchor="start" fill="#111" font-weight="normal" stroke="#111" stroke-width="0.2" >0.3</text>
<text x="421.8" y="262.65" font-size="7.6" text-anchor="start" fill="#111" font-weight="normal" stroke="#111" stroke-width="0.2" >0.6</text>
<text x="421.8" y="227.32" font-size="7.6" text-anchor="start" fill="#111" font-weight="normal" stroke="#111" stroke-width="0.2" >0.9</text>
<text x="421.8" y="192" font-size="7.6" text-anchor="start" fill="#111" font-weight="normal" stroke="#111" stroke-width="0.2" >1.2</text>
<text x="327.4" y="354.5" font-size="8.4" text-anchor="middle" fill="#111" font-weight="normal" stroke="#111" stroke-width="0.2" >Current Density (A cm<tspan font-size="5.6" dy="-3.2">-2</tspan><tspan dy="3.2">)</tspan></text>
<text x="222.6" y="253.9" font-size="8.4" text-anchor="middle" fill="#111" font-weight="normal" stroke="#111" stroke-width="0.2" transform="rotate(-90 222.6 253.9)" >Cell Voltage (V)</text>
<text x="446.3" y="250.7" font-size="8.4" text-anchor="middle" fill="#111" font-weight="normal" stroke="#111" stroke-width="0.2" transform="rotate(-90 446.3 250.7)" >Power Density (W cm<tspan font-size="5.6" dy="-3.2">-2</tspan><tspan dy="3.2">)</tspan></text>
<text x="217.5" y="192" font-size="13.3" text-anchor="start" fill="#000" font-weight="bold" stroke="#000" stroke-width="0.3">e</text>
<polyline points="482.2,200.6 484,207.3 492.2,215.7 503.4,222.9 517.4,230.2 530.8,237.3 543.4,244.3 556.6,251.2 569.1,258.5 581,265.7 593.4,273.1 606.1,279.7 618.8,287.1 632.1,294.2 645.8,301.4" fill="none" stroke="#000" stroke-width="1.9" stroke-linejoin="round" />
<polyline points="482.2,329.11 484,324.99 492.2,307.72 503.4,286.6 517.4,263.33 530.8,244.77 543.4,230.97 556.6,219.46 569.1,212.97 581,210.46 593.4,211.07 606.1,212.98 618.8,220.11 632.1,229.53 645.8,242.61" fill="none" stroke="#000" stroke-width="1.9" stroke-linejoin="round" />
<polyline points="482.2,215.1 486.7,222.9 493.4,230.7 500.5,237.8 507.8,244.7 515.6,251.4 523.4,258.5 530.1,264.1 540,271.7 549.3,279.7 558,287.1 567,294.2 575.7,301.6" fill="none" stroke="#000" stroke-width="1.9" stroke-linejoin="round" />
<polyline points="482.2,329.17 486.7,320.16 493.4,308.37 500.5,297.62 507.8,288.35 515.6,280.12 523.4,274.17 530.1,270.27 540,266.36 549.3,266.36 558,268.77 567,272.93 575.7,280.19" fill="none" stroke="#000" stroke-width="1.9" stroke-linejoin="round" />
<circle cx="484" cy="207.3" r="1.3" fill="#555" stroke="#000" stroke-width="0.8"/>
<circle cx="492.2" cy="215.7" r="1.3" fill="#555" stroke="#000" stroke-width="0.8"/>
<circle cx="503.4" cy="222.9" r="1.3" fill="#555" stroke="#000" stroke-width="0.8"/>
<circle cx="517.4" cy="230.2" r="1.3" fill="#555" stroke="#000" stroke-width="0.8"/>
<circle cx="530.8" cy="237.3" r="1.3" fill="#555" stroke="#000" stroke-width="0.8"/>
<circle cx="543.4" cy="244.3" r="1.3" fill="#555" stroke="#000" stroke-width="0.8"/>
<circle cx="556.6" cy="251.2" r="1.3" fill="#555" stroke="#000" stroke-width="0.8"/>
<circle cx="569.1" cy="258.5" r="1.3" fill="#555" stroke="#000" stroke-width="0.8"/>
<circle cx="581" cy="265.7" r="1.3" fill="#555" stroke="#000" stroke-width="0.8"/>
<circle cx="593.4" cy="273.1" r="1.3" fill="#555" stroke="#000" stroke-width="0.8"/>
<circle cx="606.1" cy="279.7" r="1.3" fill="#555" stroke="#000" stroke-width="0.8"/>
<circle cx="618.8" cy="287.1" r="1.3" fill="#555" stroke="#000" stroke-width="0.8"/>
<circle cx="632.1" cy="294.2" r="1.3" fill="#555" stroke="#000" stroke-width="0.8"/>
<circle cx="645.8" cy="301.4" r="1.3" fill="#555" stroke="#000" stroke-width="0.8"/>
<circle cx="484" cy="324.99" r="1.3" fill="#555" stroke="#000" stroke-width="0.8"/>
<circle cx="492.2" cy="307.72" r="1.3" fill="#555" stroke="#000" stroke-width="0.8"/>
<circle cx="503.4" cy="286.6" r="1.3" fill="#555" stroke="#000" stroke-width="0.8"/>
<circle cx="517.4" cy="263.33" r="1.3" fill="#555" stroke="#000" stroke-width="0.8"/>
<circle cx="530.8" cy="244.77" r="1.3" fill="#555" stroke="#000" stroke-width="0.8"/>
<circle cx="543.4" cy="230.97" r="1.3" fill="#555" stroke="#000" stroke-width="0.8"/>
<circle cx="556.6" cy="219.46" r="1.3" fill="#555" stroke="#000" stroke-width="0.8"/>
<circle cx="569.1" cy="212.97" r="1.3" fill="#555" stroke="#000" stroke-width="0.8"/>
<circle cx="581" cy="210.46" r="1.3" fill="#555" stroke="#000" stroke-width="0.8"/>
<circle cx="593.4" cy="211.07" r="1.3" fill="#555" stroke="#000" stroke-width="0.8"/>
<circle cx="606.1" cy="212.98" r="1.3" fill="#555" stroke="#000" stroke-width="0.8"/>
<circle cx="618.8" cy="220.11" r="1.3" fill="#555" stroke="#000" stroke-width="0.8"/>
<circle cx="632.1" cy="229.53" r="1.3" fill="#555" stroke="#000" stroke-width="0.8"/>
<circle cx="645.8" cy="242.61" r="1.3" fill="#555" stroke="#000" stroke-width="0.8"/>
<circle cx="486.7" cy="222.9" r="1.6" fill="#fff" stroke="#000" stroke-width="0.8"/>
<circle cx="493.4" cy="230.7" r="1.6" fill="#fff" stroke="#000" stroke-width="0.8"/>
<circle cx="500.5" cy="237.8" r="1.6" fill="#fff" stroke="#000" stroke-width="0.8"/>
<circle cx="507.8" cy="244.7" r="1.6" fill="#fff" stroke="#000" stroke-width="0.8"/>
<circle cx="515.6" cy="251.4" r="1.6" fill="#fff" stroke="#000" stroke-width="0.8"/>
<circle cx="523.4" cy="258.5" r="1.6" fill="#fff" stroke="#000" stroke-width="0.8"/>
<circle cx="530.1" cy="264.1" r="1.6" fill="#fff" stroke="#000" stroke-width="0.8"/>
<circle cx="540" cy="271.7" r="1.6" fill="#fff" stroke="#000" stroke-width="0.8"/>
<circle cx="549.3" cy="279.7" r="1.6" fill="#fff" stroke="#000" stroke-width="0.8"/>
<circle cx="558" cy="287.1" r="1.6" fill="#fff" stroke="#000" stroke-width="0.8"/>
<circle cx="567" cy="294.2" r="1.6" fill="#fff" stroke="#000" stroke-width="0.8"/>
<circle cx="575.7" cy="301.6" r="1.6" fill="#fff" stroke="#000" stroke-width="0.8"/>
<circle cx="486.7" cy="320.16" r="1.6" fill="#fff" stroke="#000" stroke-width="0.8"/>
<circle cx="493.4" cy="308.37" r="1.6" fill="#fff" stroke="#000" stroke-width="0.8"/>
<circle cx="500.5" cy="297.62" r="1.6" fill="#fff" stroke="#000" stroke-width="0.8"/>
<circle cx="507.8" cy="288.35" r="1.6" fill="#fff" stroke="#000" stroke-width="0.8"/>
<circle cx="515.6" cy="280.12" r="1.6" fill="#fff" stroke="#000" stroke-width="0.8"/>
<circle cx="523.4" cy="274.17" r="1.6" fill="#fff" stroke="#000" stroke-width="0.8"/>
<circle cx="530.1" cy="270.27" r="1.6" fill="#fff" stroke="#000" stroke-width="0.8"/>
<circle cx="540" cy="266.36" r="1.6" fill="#fff" stroke="#000" stroke-width="0.8"/>
<circle cx="549.3" cy="266.36" r="1.6" fill="#fff" stroke="#000" stroke-width="0.8"/>
<circle cx="558" cy="268.77" r="1.6" fill="#fff" stroke="#000" stroke-width="0.8"/>
<circle cx="567" cy="272.93" r="1.6" fill="#fff" stroke="#000" stroke-width="0.8"/>
<circle cx="575.7" cy="280.19" r="1.6" fill="#fff" stroke="#000" stroke-width="0.8"/>
<line x1="566.5" y1="209" x2="608.2" y2="209" stroke="#4040ff" stroke-width="1.3" stroke-dasharray="3.5,2"/>
<line x1="533.5" y1="264.6" x2="569.1" y2="264.6" stroke="#4040ff" stroke-width="1.3" stroke-dasharray="3.5,2"/>
<text x="571.7" y="236.1" font-size="8.4" text-anchor="start" fill="#111" font-weight="normal" stroke="#111" stroke-width="0.2" >Keep 53%</text>
<line x1="584.3" y1="247.7" x2="602.1" y2="247.7" stroke="#000" stroke-width="1.9" />
<circle cx="593.2" cy="247.7" r="1.2" fill="#555" stroke="#000" stroke-width="0.8"/>
<line x1="584.3" y1="257.9" x2="602.1" y2="257.9" stroke="#000" stroke-width="1.9" />
<circle cx="593.2" cy="257.9" r="1.6" fill="#fff" stroke="#000" stroke-width="0.8"/>
<text x="611" y="250.8" font-size="8.4" text-anchor="start" fill="#22bb22" font-weight="normal" stroke="#22bb22" stroke-width="0.2" >BOL</text>
<text x="610.1" y="260.8" font-size="8.4" text-anchor="start" fill="#b070b0" font-weight="normal" stroke="#b070b0" stroke-width="0.2" >10k cycles</text>
<text x="506" y="308" font-size="8.4" text-anchor="start" fill="#111" font-weight="normal" stroke="#111" stroke-width="0.2" >R-FeCo-N-C</text>
<text x="508" y="318" font-size="8.4" text-anchor="start" fill="#111" font-weight="normal" stroke="#111" stroke-width="0.2" >2 bar, 100% RH , 80 <tspan font-size="6.5" dy="-0.9">°</tspan><tspan font-size="7.8" dy="0.9">C</tspan></text>
<text x="627.3" y="318" font-size="8.4" text-anchor="start" fill="#111" font-weight="normal" stroke="#111" stroke-width="0.2" >H<tspan font-size="5.6" dy="2.0">2</tspan><tspan dy="-2.0">-O<tspan font-size="5.6" dy="2.0">2</tspan><tspan dy="-2.0"></tspan></tspan></text>
<rect x="482" y="186.8" width="176.9" height="143" fill="none" stroke="#000" stroke-width="1.65"/>
<line x1="482" y1="329.8" x2="482" y2="326.8" stroke="#000" stroke-width="1.1" />
<line x1="511.5" y1="329.8" x2="511.5" y2="326.8" stroke="#000" stroke-width="1.1" />
<line x1="541" y1="329.8" x2="541" y2="326.8" stroke="#000" stroke-width="1.1" />
<line x1="570.5" y1="329.8" x2="570.5" y2="326.8" stroke="#000" stroke-width="1.1" />
<line x1="600" y1="329.8" x2="600" y2="326.8" stroke="#000" stroke-width="1.1" />
<line x1="629.5" y1="329.8" x2="629.5" y2="326.8" stroke="#000" stroke-width="1.1" />
<line x1="659" y1="329.8" x2="659" y2="326.8" stroke="#000" stroke-width="1.1" />
<line x1="496.75" y1="329.8" x2="496.75" y2="328" stroke="#000" stroke-width="1.0" />
<line x1="526.25" y1="329.8" x2="526.25" y2="328" stroke="#000" stroke-width="1.0" />
<line x1="555.75" y1="329.8" x2="555.75" y2="328" stroke="#000" stroke-width="1.0" />
<line x1="585.25" y1="329.8" x2="585.25" y2="328" stroke="#000" stroke-width="1.0" />
<line x1="614.75" y1="329.8" x2="614.75" y2="328" stroke="#000" stroke-width="1.0" />
<line x1="644.25" y1="329.8" x2="644.25" y2="328" stroke="#000" stroke-width="1.0" />
<text x="482" y="338.7" font-size="7.6" text-anchor="middle" fill="#111" font-weight="normal" stroke="#111" stroke-width="0.2" >0.0</text>
<text x="511.5" y="338.7" font-size="7.6" text-anchor="middle" fill="#111" font-weight="normal" stroke="#111" stroke-width="0.2" >0.5</text>
<text x="541" y="338.7" font-size="7.6" text-anchor="middle" fill="#111" font-weight="normal" stroke="#111" stroke-width="0.2" >1.0</text>
<text x="570.5" y="338.7" font-size="7.6" text-anchor="middle" fill="#111" font-weight="normal" stroke="#111" stroke-width="0.2" >1.5</text>
<text x="600" y="338.7" font-size="7.6" text-anchor="middle" fill="#111" font-weight="normal" stroke="#111" stroke-width="0.2" >2.0</text>
<text x="629.5" y="338.7" font-size="7.6" text-anchor="middle" fill="#111" font-weight="normal" stroke="#111" stroke-width="0.2" >2.5</text>
<text x="659" y="338.7" font-size="7.6" text-anchor="middle" fill="#111" font-weight="normal" stroke="#111" stroke-width="0.2" >3.0</text>
<line x1="482" y1="329.6" x2="485" y2="329.6" stroke="#000" stroke-width="1.1" />
<line x1="482" y1="301.04" x2="485" y2="301.04" stroke="#000" stroke-width="1.1" />
<line x1="482" y1="272.48" x2="485" y2="272.48" stroke="#000" stroke-width="1.1" />
<line x1="482" y1="243.92" x2="485" y2="243.92" stroke="#000" stroke-width="1.1" />
<line x1="482" y1="215.36" x2="485" y2="215.36" stroke="#000" stroke-width="1.1" />
<line x1="482" y1="186.8" x2="485" y2="186.8" stroke="#000" stroke-width="1.1" />
<line x1="482" y1="315.32" x2="483.8" y2="315.32" stroke="#000" stroke-width="1.0" />
<line x1="482" y1="286.76" x2="483.8" y2="286.76" stroke="#000" stroke-width="1.0" />
<line x1="482" y1="258.2" x2="483.8" y2="258.2" stroke="#000" stroke-width="1.0" />
<line x1="482" y1="229.64" x2="483.8" y2="229.64" stroke="#000" stroke-width="1.0" />
<line x1="482" y1="201.08" x2="483.8" y2="201.08" stroke="#000" stroke-width="1.0" />
<text x="479" y="332.5" font-size="7.6" text-anchor="end" fill="#111" font-weight="normal" stroke="#111" stroke-width="0.2" >0.0</text>
<text x="479" y="303.94" font-size="7.6" text-anchor="end" fill="#111" font-weight="normal" stroke="#111" stroke-width="0.2" >0.2</text>
<text x="479" y="275.38" font-size="7.6" text-anchor="end" fill="#111" font-weight="normal" stroke="#111" stroke-width="0.2" >0.4</text>
<text x="479" y="246.82" font-size="7.6" text-anchor="end" fill="#111" font-weight="normal" stroke="#111" stroke-width="0.2" >0.6</text>
<text x="479" y="218.26" font-size="7.6" text-anchor="end" fill="#111" font-weight="normal" stroke="#111" stroke-width="0.2" >0.8</text>
<text x="479" y="189.7" font-size="7.6" text-anchor="end" fill="#111" font-weight="normal" stroke="#111" stroke-width="0.2" >1.0</text>
<line x1="658.9" y1="329.6" x2="655.9" y2="329.6" stroke="#000" stroke-width="1.1" />
<line x1="658.9" y1="282" x2="655.9" y2="282" stroke="#000" stroke-width="1.1" />
<line x1="658.9" y1="234.4" x2="655.9" y2="234.4" stroke="#000" stroke-width="1.1" />
<line x1="658.9" y1="186.8" x2="655.9" y2="186.8" stroke="#000" stroke-width="1.1" />
<line x1="658.9" y1="305.8" x2="657.1" y2="305.8" stroke="#000" stroke-width="1.0" />
<line x1="658.9" y1="258.2" x2="657.1" y2="258.2" stroke="#000" stroke-width="1.0" />
<line x1="658.9" y1="210.6" x2="657.1" y2="210.6" stroke="#000" stroke-width="1.0" />
<text x="662.2" y="332.5" font-size="7.6" text-anchor="start" fill="#111" font-weight="normal" stroke="#111" stroke-width="0.2" >0.0</text>
<text x="662.2" y="284.9" font-size="7.6" text-anchor="start" fill="#111" font-weight="normal" stroke="#111" stroke-width="0.2" >0.3</text>
<text x="662.2" y="237.3" font-size="7.6" text-anchor="start" fill="#111" font-weight="normal" stroke="#111" stroke-width="0.2" >0.6</text>
<text x="662.2" y="189.7" font-size="7.6" text-anchor="start" fill="#111" font-weight="normal" stroke="#111" stroke-width="0.2" >0.9</text>
<text x="582.6" y="356.5" font-size="8.4" text-anchor="middle" fill="#111" font-weight="normal" stroke="#111" stroke-width="0.2" >Current Density (A cm<tspan font-size="5.6" dy="-3.2">-2</tspan><tspan dy="3.2">)</tspan></text>
<text x="463" y="254" font-size="8.4" text-anchor="middle" fill="#111" font-weight="normal" stroke="#111" stroke-width="0.2" transform="rotate(-90 463 254)" >Cell Voltage (V)</text>
<text x="682" y="258" font-size="8.4" text-anchor="middle" fill="#111" font-weight="normal" stroke="#111" stroke-width="0.2" transform="rotate(-90 682 258)" >Power Density (W cm<tspan font-size="5.6" dy="-3.2">-2</tspan><tspan dy="3.2">)</tspan></text>
<text x="457.2" y="193.7" font-size="13.3" text-anchor="start" fill="#000" font-weight="bold" stroke="#000" stroke-width="0.3">f</text>
</svg></body></html>
